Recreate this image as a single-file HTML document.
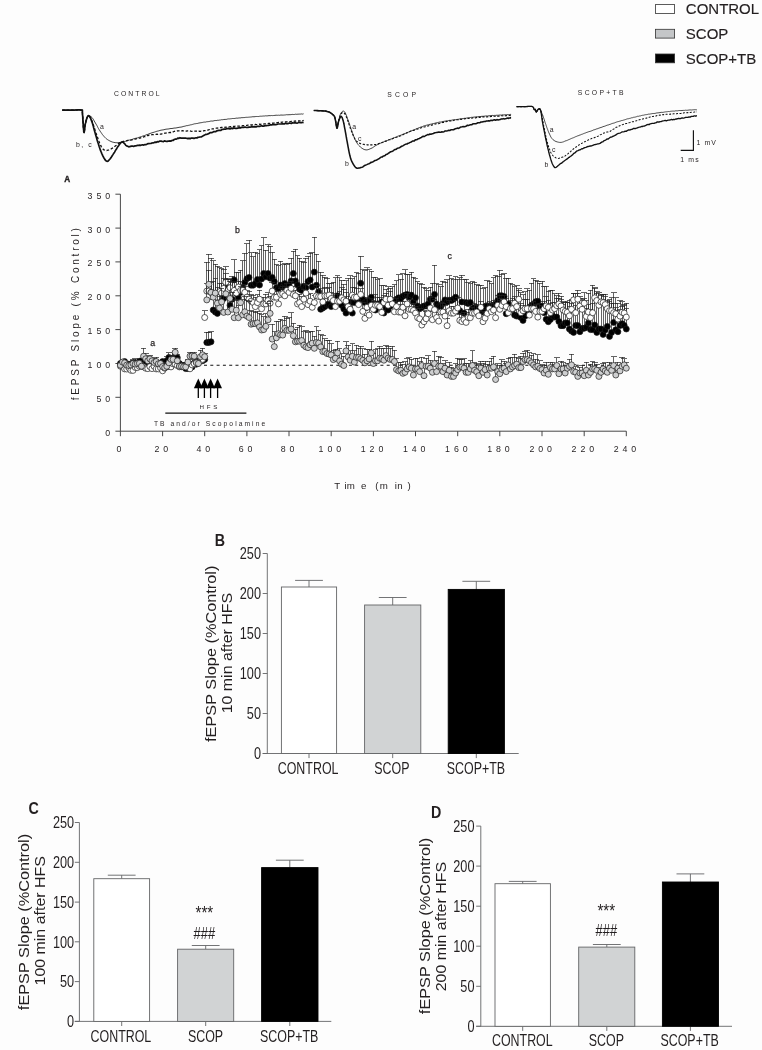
<!DOCTYPE html>
<html lang="en"><head><meta charset="utf-8"><title>fEPSP figure</title>
<style>
html,body{margin:0;padding:0;background:#fdfdfd}
svg{display:block}
text{font-family:"Liberation Sans",sans-serif;fill:#231f20}
.sp{letter-spacing:3.9px}
</style></head><body>
<svg width="762" height="1050" viewBox="0 0 762 1050">
<rect width="762" height="1050" fill="#fdfdfd"/>
<g id="legend" font-size="15" stroke="#231f20" stroke-width="0.15">
<rect x="655.4" y="4.6" width="19.2" height="8.8" fill="#fff" stroke="#333" stroke-width="0.8"/><text x="685.8" y="14.4">CONTROL</text>
<rect x="655.4" y="29.3" width="19.2" height="8.8" fill="#c4c6c8" stroke="#333" stroke-width="0.8"/><text x="685.8" y="39.0">SCOP</text>
<rect x="655.4" y="54.0" width="19.2" height="8.8" fill="#000" stroke="#333" stroke-width="0.8"/><text x="685.8" y="63.7">SCOP+TB</text>
</g>
<g id="traces">
<polyline points="62.2,110.1 62.9,110.1 63.8,110.1 64.8,110.1 66.0,110.2 67.3,110.2 68.6,110.2 70.0,110.2 70.9,110.2 72.0,110.2 73.1,110.1 74.3,110.1 75.5,110.0 76.7,110.0 77.8,109.9 78.9,109.9 79.8,109.9 80.6,110.0 81.3,110.1 82.4,110.2 82.4,110.7 82.4,113.0 82.5,113.7 82.5,114.5 82.6,115.4 82.7,116.5 82.8,117.6 82.8,118.8 82.9,120.1 83.0,121.3 83.1,122.6 83.2,123.9 83.3,125.2 83.3,126.4 83.4,127.6 83.5,128.7 83.6,129.7 83.7,130.5 83.7,131.3 83.8,131.8 83.9,132.2 84.1,132.5 84.2,132.0 84.4,131.1 84.6,129.7 84.7,128.2 84.9,126.6 85.1,125.1 85.3,124.0 85.6,122.9 85.8,121.8 86.1,120.7 86.4,119.7 86.7,118.7 87.0,117.9 87.3,117.2 88.1,116.0 89.0,115.8 89.9,116.0 90.9,116.5 92.0,117.5 92.5,118.2 93.1,119.0 93.6,119.9 94.2,120.9 94.8,122.0 95.4,123.0 96.0,124.0 96.5,124.9 97.0,125.7 97.5,126.6 97.9,127.5 98.4,128.4 98.9,129.3 99.5,130.1 100.0,131.0 100.6,131.9 101.2,132.7 101.8,133.6 102.4,134.5 103.1,135.3 103.7,136.1 104.4,136.8 105.0,137.5 105.8,138.3 106.7,139.0 107.5,139.6 108.3,140.1 109.2,140.6 110.0,141.0 111.0,141.5 112.0,141.9 112.9,142.2 113.9,142.4 115.0,142.6 115.9,142.7 116.9,142.7 117.9,142.7 118.9,142.6 119.9,142.5 121.0,142.3 121.9,142.1 122.8,141.9 123.7,141.7 124.6,141.5 125.6,141.3 126.7,140.9 128.0,140.6 128.8,140.2 129.6,140.0 130.5,139.9 131.3,139.7 132.2,139.4 133.2,138.9 134.2,138.7 135.2,138.4 136.3,138.1 137.5,137.9 138.7,137.4 140.0,137.1 140.8,136.7 141.6,136.6 142.4,136.2 143.3,135.8 144.2,135.7 145.1,135.4 146.1,134.8 147.0,134.6 148.0,134.3 149.0,133.8 150.0,133.5 151.0,133.1 152.0,132.8 153.0,132.5 154.1,132.2 155.1,131.9 156.1,131.5 157.1,131.2 158.1,131.0 159.0,130.8 160.0,130.4 161.0,130.2 162.0,130.0 163.0,129.9 164.0,129.7 165.0,129.4 166.0,129.2 167.0,129.1 168.0,129.0 169.0,128.9 170.0,128.6 171.0,128.5 172.0,128.5 173.0,128.3 174.0,128.1 175.0,128.0 176.0,128.0 177.0,127.7 178.0,127.6 179.0,127.3 180.0,127.2 181.0,127.1 182.0,126.9 183.0,126.6 183.9,126.3 184.9,126.2 185.8,125.9 186.8,125.6 187.8,125.6 188.7,125.3 189.7,125.1 190.7,124.8 191.6,124.7 192.6,124.4 193.6,124.1 194.6,123.8 195.7,123.7 196.7,123.5 197.8,123.4 198.9,123.0 200.0,122.9 200.9,122.7 201.8,122.6 202.7,122.4 203.6,122.2 204.5,122.1 205.5,122.1 206.4,121.8 207.3,121.7 208.3,121.6 209.2,121.5 210.2,121.2 211.2,121.0 212.1,121.1 213.1,121.0 214.1,120.7 215.2,120.5 216.2,120.6 217.2,120.3 218.3,120.3 219.4,120.1 220.5,120.0 221.6,119.7 222.7,119.7 223.8,119.5 225.0,119.4 225.9,119.4 226.8,119.3 227.7,119.0 228.6,118.9 229.5,118.9 230.4,118.8 231.4,118.7 232.3,118.5 233.3,118.5 234.2,118.5 235.2,118.4 236.1,118.1 237.1,118.2 238.1,118.1 239.1,117.9 240.1,118.0 241.1,117.7 242.1,117.7 243.2,117.6 244.2,117.6 245.3,117.4 246.3,117.3 247.4,117.3 248.5,117.2 249.6,117.1 250.7,117.0 251.8,116.9 252.9,116.7 254.0,116.8 255.2,116.6 256.3,116.5 257.5,116.5 258.7,116.5 259.6,116.3 260.6,116.2 261.5,116.2 262.5,116.1 263.6,116.0 264.6,116.0 265.7,115.8 266.8,115.9 267.9,115.8 269.0,115.6 270.2,115.7 271.4,115.5 272.5,115.6 273.7,115.5 274.9,115.4 276.1,115.2 277.3,115.3 278.5,115.2 279.7,115.3 280.9,115.0 282.1,115.1 283.3,115.1 284.4,115.0 285.6,114.9 286.7,114.7 287.9,114.8 289.0,114.7 290.1,114.7 291.2,114.6 292.2,114.4 293.3,114.5 294.3,114.5 295.3,114.2 296.2,114.3 297.1,114.3 298.0,114.1 298.9,114.2 299.7,114.1 300.4,114.1 301.2,113.9 301.8,114.0 302.5,114.1 303.1,113.9 303.6,113.8" fill="none" stroke="#111" stroke-width="0.8" stroke-linejoin="round"/>
<polyline points="62.2,110.1 62.9,110.1 63.8,110.1 64.8,110.1 66.0,110.2 67.3,110.2 68.6,110.2 70.0,110.2 70.9,110.2 72.0,110.2 73.1,110.1 74.3,110.1 75.5,110.0 76.7,110.0 77.8,109.9 78.9,109.9 79.8,109.9 80.6,110.0 81.3,110.1 82.4,110.2 82.4,110.7 82.4,113.0 82.5,113.7 82.5,114.5 82.6,115.4 82.7,116.5 82.8,117.6 82.8,118.8 82.9,120.1 83.0,121.3 83.1,122.6 83.2,123.9 83.3,125.2 83.3,126.4 83.4,127.6 83.5,128.7 83.6,129.7 83.7,130.5 83.7,131.3 83.8,131.8 83.9,132.2 84.1,132.5 84.2,132.0 84.4,131.1 84.6,129.7 84.7,128.2 84.9,126.6 85.1,125.1 85.3,124.0 85.6,122.9 85.8,121.8 86.1,120.7 86.4,119.7 86.7,118.7 87.0,117.9 87.3,117.2 88.1,115.8 89.0,115.8 89.4,116.2 89.9,116.8 90.4,117.6 90.9,118.5 91.4,119.7 92.0,121.0 92.3,121.8 92.6,122.6 92.9,123.5 93.3,124.5 93.6,125.6 93.9,126.6 94.3,127.7 94.6,128.8 95.0,129.9 95.3,131.0 95.7,132.0 96.0,133.0 96.4,134.1 96.7,135.1 97.1,136.2 97.5,137.3 97.9,138.4 98.2,139.5 98.6,140.5 99.0,141.5 99.3,142.4 99.7,143.2 100.0,144.0 100.7,145.4 101.3,146.6 101.8,147.5 102.4,148.3 103.0,149.0 104.0,149.9 104.9,150.3 106.0,150.5 106.9,150.5 107.9,150.2 109.0,149.9 110.0,149.5 111.0,149.0 112.0,148.4 113.0,147.7 114.0,147.0 114.8,146.4 115.6,145.8 116.5,145.2 117.3,144.5 118.0,144.0 118.9,143.2 119.7,142.6 121.0,142.0 121.7,141.8 122.6,141.6 123.5,141.4 124.4,141.2 125.5,141.0 126.7,140.7 128.0,140.3 128.8,140.2 129.7,140.0 130.7,140.1 131.7,139.8 132.7,139.7 133.8,139.2 134.9,139.2 136.0,138.8 137.0,138.7 138.1,138.5 139.1,138.2 140.0,138.1 141.1,137.7 142.1,137.4 143.1,137.2 144.1,136.6 145.1,136.6 146.1,136.1 147.1,135.7 148.0,135.6 149.0,135.1 150.0,135.2 151.0,134.9 152.0,134.6 153.0,134.7 154.0,134.5 155.0,134.3 156.0,134.4 157.0,134.1 158.0,134.3 159.0,134.0 160.0,134.1 161.0,134.1 162.0,133.8 163.0,133.7 164.0,133.4 165.0,133.1 166.0,133.0 167.0,132.8 168.0,132.9 169.0,132.6 170.0,132.5 171.0,132.5 171.8,132.0 172.7,131.8 173.5,131.8 174.4,131.3 175.3,131.1 176.3,131.1 177.4,130.9 178.6,130.8 180.0,130.7 180.8,130.8 181.6,130.8 182.5,130.7 183.4,130.8 184.4,130.8 185.4,130.7 186.5,131.1 187.5,130.9 188.6,130.9 189.7,130.9 190.8,131.2 191.9,131.3 193.0,131.3 194.1,131.2 195.1,131.2 196.2,131.1 197.2,131.3 198.2,131.3 199.1,131.2 200.0,131.3 201.2,131.1 202.3,131.2 203.4,130.9 204.5,130.6 205.6,130.6 206.6,130.1 207.6,130.1 208.6,129.8 209.6,129.5 210.6,129.2 211.5,129.3 212.4,128.8 213.3,128.8 214.2,128.8 215.0,128.4 216.2,128.2 217.2,128.2 218.2,128.0 219.1,127.9 220.0,127.9 220.9,127.5 221.8,127.5 222.8,127.4 223.8,127.1 225.0,127.4 225.8,127.2 226.7,127.1 227.6,126.8 228.5,127.0 229.5,126.9 230.5,126.7 231.5,126.8 232.5,126.6 233.5,126.4 234.5,126.3 235.6,126.2 236.7,126.1 237.8,126.1 238.9,126.2 240.0,126.1 240.9,126.1 241.9,125.9 242.9,125.7 243.9,125.7 244.9,125.5 245.9,125.6 246.9,125.4 247.9,125.2 249.0,125.2 250.0,125.3 251.1,124.9 252.1,125.0 253.2,124.6 254.3,124.6 255.4,124.5 256.5,124.6 257.6,124.6 258.7,124.4 259.7,124.1 260.6,124.3 261.6,124.0 262.6,123.9 263.5,124.0 264.5,123.9 265.5,123.8 266.5,123.7 267.5,123.7 268.5,123.5 269.6,123.5 270.6,123.4 271.6,123.4 272.6,123.1 273.7,123.1 274.7,123.0 275.8,122.8 276.8,122.7 277.9,122.7 278.9,122.4 280.0,122.7 281.0,122.3 282.1,122.1 283.1,122.1 284.3,122.3 285.4,122.0 286.6,121.8 287.8,121.6 289.0,121.5 290.2,121.7 291.4,121.5 292.5,121.5 293.7,121.4 294.9,121.0 296.0,121.1 297.0,120.9 298.1,121.0 299.1,120.9 300.0,120.9 300.9,120.5 301.7,120.7 302.4,120.7 303.0,120.6 303.6,120.2" fill="none" stroke="#111" stroke-width="1.3" stroke-linejoin="round" stroke-dasharray="2.6 1.8"/>
<polyline points="62.2,110.1 62.9,110.1 63.8,110.1 64.8,110.1 66.0,110.2 67.3,110.2 68.6,110.2 70.0,110.2 70.9,110.2 72.0,110.2 73.1,110.1 74.3,110.1 75.5,110.0 76.7,110.0 77.8,109.9 78.9,109.9 79.8,109.9 80.6,110.0 81.3,110.1 82.4,110.2 82.4,110.7 82.4,113.0 82.5,113.7 82.5,114.5 82.6,115.4 82.7,116.5 82.8,117.6 82.8,118.8 82.9,120.1 83.0,121.3 83.1,122.6 83.2,123.9 83.3,125.2 83.3,126.4 83.4,127.6 83.5,128.7 83.6,129.7 83.7,130.5 83.7,131.3 83.8,131.8 83.9,132.2 84.1,132.5 84.2,132.0 84.4,131.1 84.6,129.7 84.7,128.2 84.9,126.6 85.1,125.1 85.3,124.0 85.6,122.9 85.8,121.8 86.1,120.7 86.4,119.7 86.7,118.7 87.0,117.9 87.3,117.2 88.1,115.7 89.0,115.8 89.4,116.3 89.9,117.0 90.4,117.9 90.9,119.1 91.4,120.4 92.0,122.0 92.3,122.8 92.5,123.6 92.8,124.5 93.1,125.5 93.4,126.5 93.6,127.5 93.9,128.6 94.2,129.7 94.5,130.8 94.8,131.8 95.1,132.9 95.4,134.0 95.7,135.0 96.0,136.0 96.3,137.0 96.6,138.1 96.9,139.2 97.2,140.2 97.5,141.3 97.8,142.3 98.2,143.3 98.5,144.3 98.8,145.3 99.1,146.3 99.4,147.2 99.7,148.1 100.0,149.0 100.4,150.2 100.9,151.4 101.4,152.5 101.8,153.6 102.3,154.6 102.7,155.6 103.2,156.5 103.6,157.3 104.0,158.0 104.8,159.4 105.6,160.4 106.3,161.0 107.0,161.3 108.0,161.1 108.9,160.2 110.0,159.0 110.5,158.3 111.1,157.6 111.6,156.7 112.2,155.8 112.8,154.9 113.4,153.9 114.0,153.0 114.6,152.1 115.1,151.1 115.7,150.1 116.3,149.2 116.9,148.2 117.4,147.3 118.0,146.5 118.8,145.4 119.6,144.2 120.4,143.2 121.2,142.4 121.9,142.0 123.0,142.1 124.0,143.1 125.0,144.1 125.8,145.4 126.6,145.9 127.6,146.3 128.7,146.8 129.6,146.7 130.5,146.4 131.5,146.1 132.5,146.0 133.7,146.4 135.0,145.8 135.8,145.8 136.7,145.7 137.6,145.3 138.5,145.3 139.5,145.2 140.5,145.4 141.5,145.0 142.6,144.8 143.8,145.1 145.0,144.5 145.9,144.6 146.8,144.3 147.8,143.6 148.8,143.7 149.8,143.5 150.9,143.5 152.0,142.9 153.0,143.0 154.1,142.6 155.2,142.1 156.2,142.4 157.2,141.6 158.2,142.0 159.1,141.4 160.0,141.1 161.2,141.1 162.3,141.5 163.4,141.6 164.4,140.8 165.3,141.2 166.2,141.3 167.2,141.5 168.1,141.0 169.0,141.1 170.0,140.9 171.0,141.1 172.0,140.3 173.0,140.5 174.0,139.6 175.0,139.2 176.0,139.2 177.0,138.7 178.0,138.1 179.0,138.3 180.0,137.7 181.0,138.1 182.0,138.1 183.0,138.2 184.0,138.1 185.0,138.0 186.0,138.2 187.0,138.3 188.0,138.8 189.0,138.2 190.0,138.8 191.0,138.1 192.0,138.1 193.0,138.1 194.0,138.5 195.0,138.0 196.0,137.8 197.0,138.0 198.0,137.3 199.0,137.2 200.0,137.0 201.0,136.9 201.9,136.6 202.8,136.1 203.8,135.4 204.7,135.0 205.6,134.4 206.6,134.5 207.7,134.0 208.8,133.6 210.0,132.7 210.9,132.7 211.7,132.7 212.7,132.3 213.6,131.6 214.6,131.6 215.6,131.7 216.7,130.9 217.7,130.6 218.8,130.4 219.8,130.4 220.9,130.3 221.9,129.5 223.0,129.3 224.0,129.2 225.0,129.1 226.0,129.1 227.0,128.6 227.9,128.6 228.9,128.4 229.9,128.9 230.8,128.7 231.8,128.1 232.8,128.7 233.7,127.9 234.7,128.1 235.7,128.5 236.8,128.3 237.8,128.2 238.9,127.8 240.0,127.6 240.9,127.8 241.9,127.3 242.9,127.3 243.9,127.4 244.9,127.0 245.9,127.3 246.9,127.5 247.9,127.3 249.0,127.1 250.0,127.1 251.1,126.9 252.1,126.6 253.2,126.9 254.3,126.6 255.4,126.8 256.5,126.8 257.6,126.3 258.7,126.4 259.7,126.4 260.6,126.0 261.6,125.8 262.6,126.1 263.5,126.1 264.5,125.9 265.5,125.7 266.5,125.7 267.5,125.5 268.5,125.3 269.6,125.1 270.6,124.8 271.6,125.0 272.6,124.4 273.7,124.6 274.7,124.7 275.8,124.6 276.8,124.4 277.9,124.0 278.9,124.0 280.0,124.0 281.0,124.0 282.1,123.8 283.1,123.9 284.3,124.0 285.4,123.3 286.6,123.6 287.8,123.6 289.0,123.2 290.2,123.2 291.4,123.5 292.5,122.7 293.7,123.0 294.9,122.6 296.0,123.0 297.0,123.1 298.1,122.7 299.1,122.3 300.0,122.6 300.9,122.5 301.7,122.6 302.4,122.4 303.0,122.5 303.6,122.6" fill="none" stroke="#111" stroke-width="1.7" stroke-linejoin="round"/>
<polyline points="313.8,110.5 314.5,110.5 315.4,110.5 316.6,110.6 317.7,110.6 318.9,110.7 320.0,110.7 321.2,110.8 322.3,110.8 323.5,110.9 324.6,111.0 325.6,111.1 326.8,111.4 328.0,111.7 329.1,112.1 330.0,112.5 331.0,113.1 331.8,113.7 332.5,114.4 333.6,115.3 334.5,116.5 334.8,117.4 335.1,118.4 335.3,119.6 335.6,121.0 335.8,122.0 336.0,123.3 336.2,124.6 336.4,125.9 336.6,127.0 336.8,127.9 337.0,128.2 337.2,128.0 337.4,127.2 337.7,126.0 337.9,124.7 338.1,123.3 338.4,122.0 338.6,121.1 338.9,120.0 339.1,118.9 339.4,117.8 339.6,116.7 339.9,115.7 340.2,114.8 340.5,114.0 341.2,112.8 341.9,111.8 342.6,111.3 343.3,111.1 343.9,111.2 344.5,111.7 345.2,112.7 346.0,114.5 346.3,115.2 346.6,115.9 346.9,116.8 347.3,117.8 347.6,118.8 348.0,119.9 348.4,121.0 348.8,122.1 349.2,123.3 349.6,124.4 349.9,125.5 350.3,126.5 350.6,127.5 350.9,128.4 351.2,129.2 351.7,130.5 352.1,131.7 352.4,132.7 352.7,133.6 353.0,134.5 353.3,135.3 353.7,136.2 354.0,137.0 354.5,138.1 354.9,139.2 355.4,140.2 355.9,141.2 356.4,142.1 357.0,143.0 357.6,143.9 358.2,144.7 358.9,145.5 359.6,146.2 360.3,146.9 361.0,147.5 361.9,148.2 362.9,148.8 363.9,149.4 364.9,149.7 366.0,149.9 366.9,149.9 367.9,149.7 368.9,149.4 369.9,148.9 370.9,148.5 372.0,148.0 372.8,147.6 373.5,147.1 374.1,146.8 374.9,146.0 375.8,145.5 377.1,144.8 378.7,144.1 379.4,143.6 380.1,143.5 380.8,143.0 381.6,142.6 382.5,142.3 383.4,142.0 384.3,141.5 385.3,141.3 386.2,140.9 387.2,140.6 388.2,140.0 389.3,139.6 390.3,139.2 391.4,139.0 392.4,138.6 393.4,138.1 394.5,137.6 395.5,137.4 396.5,136.8 397.4,136.4 398.4,136.0 399.3,135.8 400.3,135.4 401.3,135.0 402.3,134.5 403.3,134.2 404.3,133.6 405.3,133.5 406.3,132.9 407.3,132.5 408.2,132.2 409.2,131.8 410.2,131.3 411.2,130.9 412.1,130.6 413.0,130.1 413.9,129.9 414.8,129.4 415.7,129.2 416.5,128.7 417.3,128.5 418.1,128.1 419.3,127.7 420.4,127.2 421.4,126.8 422.3,126.7 423.2,126.2 424.0,125.9 424.9,125.7 425.7,125.4 426.6,125.2 427.6,124.9 428.7,124.7 430.0,124.3 430.8,124.2 431.6,124.0 432.5,123.6 433.3,123.6 434.2,123.4 435.1,123.2 436.0,122.8 436.9,122.8 437.9,122.6 438.9,122.2 439.9,122.0 440.9,122.1 441.9,121.8 443.0,121.5 444.1,121.3 445.2,121.1 446.4,120.9 447.6,120.9 448.8,120.5 450.0,120.3 450.8,120.4 451.7,120.2 452.6,119.9 453.5,120.0 454.4,119.8 455.3,119.7 456.3,119.5 457.3,119.4 458.2,119.3 459.2,119.1 460.2,118.8 461.2,118.8 462.2,118.6 463.3,118.5 464.3,118.3 465.3,118.3 466.4,118.1 467.4,117.9 468.5,117.7 469.5,117.6 470.6,117.5 471.7,117.3 472.7,117.3 473.8,117.1 474.8,117.0 475.9,116.9 476.9,116.8 477.9,116.8 479.0,116.5 480.0,116.6 481.0,116.4 482.0,116.3 483.1,116.3 484.2,116.2 485.3,116.0 486.4,115.9 487.6,116.0 488.7,115.7 489.9,115.7 491.0,115.7 492.2,115.4 493.4,115.5 494.6,115.4 495.7,115.4 496.9,115.2 498.0,115.3 499.1,115.1 500.2,115.0 501.3,115.1 502.3,114.8 503.3,114.9 504.3,114.8 505.3,114.7 506.2,114.8 507.0,114.6 507.8,114.6 508.6,114.6 509.3,114.6 510.0,114.4 510.6,114.4 511.1,114.4" fill="none" stroke="#111" stroke-width="0.8" stroke-linejoin="round"/>
<polyline points="313.8,110.5 314.5,110.5 315.4,110.5 316.6,110.6 317.7,110.6 318.9,110.7 320.0,110.7 321.2,110.8 322.3,110.8 323.5,110.9 324.6,111.0 325.6,111.1 326.8,111.4 328.0,111.7 329.1,112.1 330.0,112.5 331.0,113.1 331.8,113.7 332.5,114.4 333.6,115.3 334.5,116.5 334.8,117.4 335.1,118.4 335.3,119.6 335.6,121.0 335.8,122.0 336.0,123.3 336.2,124.6 336.4,125.9 336.6,127.0 336.8,127.9 337.0,128.2 337.2,128.0 337.4,127.2 337.7,126.0 337.9,124.6 338.1,123.2 338.4,122.0 338.7,121.0 338.9,119.9 339.2,118.8 339.5,117.7 339.9,116.7 340.2,115.8 340.5,115.0 341.3,113.6 342.1,112.7 343.0,112.5 343.7,112.7 344.3,113.2 345.1,114.2 346.0,116.0 346.3,116.7 346.6,117.5 347.0,118.4 347.3,119.4 347.7,120.4 348.1,121.5 348.4,122.7 348.8,123.8 349.2,124.9 349.6,126.1 350.0,127.1 350.3,128.2 350.7,129.1 351.0,130.0 351.5,131.2 352.0,132.4 352.4,133.6 352.8,134.6 353.3,135.6 353.7,136.6 354.1,137.4 354.6,138.2 355.0,139.0 355.8,140.2 356.5,141.1 357.3,141.8 358.1,142.4 359.0,143.0 359.9,143.4 360.8,143.8 361.8,144.0 362.9,144.3 363.9,144.4 365.0,144.6 366.0,144.7 367.0,144.8 368.0,144.8 369.1,144.8 370.1,144.8 371.1,144.8 372.0,144.8 373.1,144.8 374.0,144.8 374.9,144.5 375.8,144.6 377.0,144.2 377.8,144.0 378.7,143.6 379.5,143.4 380.5,143.3 381.5,142.8 382.6,142.5 383.7,141.9 385.0,141.4 385.8,141.1 386.6,141.0 387.4,140.7 388.3,140.4 389.1,139.8 390.0,139.7 391.0,139.5 391.9,139.0 392.9,138.4 394.0,138.1 395.0,137.6 396.1,137.3 397.2,137.1 398.4,136.5 399.2,136.3 400.0,136.0 400.8,135.7 401.6,135.2 402.4,134.9 403.2,134.6 404.0,134.2 404.9,133.8 405.7,133.5 406.6,132.9 407.5,132.7 408.4,132.2 409.3,132.0 410.3,131.3 411.3,131.0 412.3,130.5 413.4,130.4 414.5,130.1 415.6,129.6 416.8,129.1 418.0,128.9 418.8,128.7 419.7,128.3 420.5,128.0 421.4,127.7 422.3,127.5 423.3,127.2 424.2,127.0 425.2,126.8 426.2,126.7 427.2,126.1 428.2,126.0 429.2,125.5 430.2,125.3 431.2,125.3 432.3,124.9 433.4,124.8 434.4,124.4 435.5,123.9 436.5,123.8 437.6,123.7 438.7,123.6 439.7,123.3 440.8,122.9 441.8,122.6 442.9,122.3 443.9,122.3 445.0,121.9 446.0,121.6 447.0,121.4 448.0,121.2 449.0,121.3 450.0,120.8 451.0,121.0 452.1,120.5 453.1,120.6 454.1,120.1 455.1,119.9 456.1,120.1 457.1,119.7 458.1,119.8 459.1,119.4 460.1,119.2 461.1,119.4 462.1,119.2 463.1,119.2 464.1,119.0 465.1,118.6 466.0,118.7 467.0,118.6 468.0,118.4 469.0,118.5 470.0,118.1 471.0,118.3 472.0,118.1 473.0,117.8 474.0,117.7 475.0,117.8 476.0,117.8 477.0,117.4 478.0,117.4 479.0,117.5 480.0,117.2 481.0,117.4 482.0,117.1 483.1,116.9 484.2,116.9 485.3,116.9 486.4,116.8 487.6,116.8 488.7,116.5 489.9,116.7 491.0,116.4 492.2,116.5 493.4,116.4 494.6,116.2 495.7,116.2 496.9,116.3 498.0,116.3 499.1,116.1 500.2,116.0 501.3,115.8 502.3,115.7 503.3,116.0 504.3,115.8 505.3,115.8 506.2,115.6 507.0,115.7 507.8,115.8 508.6,115.7 509.3,115.5 510.0,115.4 510.6,115.4 511.1,115.6" fill="none" stroke="#111" stroke-width="1.15" stroke-linejoin="round" stroke-dasharray="2.2 1.6"/>
<polyline points="313.8,110.5 314.5,110.5 315.4,110.5 316.6,110.6 317.7,110.6 318.9,110.7 320.0,110.7 321.2,110.8 322.3,110.8 323.5,110.9 324.6,111.0 325.6,111.1 326.8,111.4 328.0,111.7 329.1,112.1 330.0,112.5 331.0,113.1 331.8,113.7 332.5,114.4 333.6,115.3 334.5,116.5 334.8,117.4 335.1,118.4 335.3,119.6 335.6,121.0 335.8,122.0 336.0,123.3 336.2,124.6 336.4,125.9 336.6,127.0 336.8,127.9 337.0,128.2 337.2,127.9 337.5,127.0 337.7,125.8 337.9,124.4 338.2,123.0 338.4,122.0 338.8,120.6 339.2,119.5 339.7,118.5 340.4,116.9 341.3,116.4 341.6,116.8 342.0,117.3 342.3,118.1 342.7,119.2 343.1,120.4 343.5,122.0 343.7,122.7 343.8,123.5 344.0,124.3 344.2,125.2 344.3,126.1 344.5,127.1 344.7,128.1 344.9,129.1 345.1,130.2 345.3,131.3 345.5,132.4 345.7,133.5 345.9,134.7 346.1,135.8 346.3,137.0 346.5,137.9 346.6,138.8 346.8,139.8 347.0,140.8 347.2,141.9 347.4,143.0 347.6,144.1 347.8,145.2 348.0,146.3 348.2,147.4 348.4,148.4 348.6,149.5 348.8,150.6 349.0,151.6 349.2,152.6 349.4,153.5 349.6,154.4 349.8,155.3 350.0,156.1 350.2,156.8 350.6,158.4 351.1,159.7 351.5,160.7 351.9,161.7 352.3,162.4 352.7,163.1 353.1,163.8 353.5,164.5 354.2,165.6 354.8,166.5 355.5,167.3 356.2,167.8 357.0,168.2 357.9,168.3 358.7,168.1 359.7,168.0 360.8,167.6 362.0,167.3 362.9,166.9 363.8,166.1 364.7,165.4 365.8,165.0 366.8,164.6 367.9,164.1 368.9,163.8 370.0,163.3 370.9,162.3 371.7,162.4 372.4,162.0 373.2,161.7 374.0,161.1 375.0,160.5 376.0,160.3 377.2,159.7 378.7,158.8 379.4,158.6 380.1,157.8 380.8,157.3 381.6,157.1 382.4,156.9 383.3,156.0 384.2,155.9 385.1,155.5 386.0,154.5 386.9,154.2 387.9,153.7 388.8,153.0 389.8,152.3 390.8,151.8 391.8,151.6 392.7,151.1 393.7,150.3 394.7,149.5 395.6,149.5 396.6,149.0 397.5,148.2 398.4,148.0 399.3,147.7 400.3,147.2 401.3,146.5 402.3,146.0 403.3,145.6 404.3,144.9 405.3,144.4 406.3,144.0 407.3,143.9 408.2,143.2 409.2,142.9 410.2,142.4 411.2,142.0 412.1,141.4 413.0,140.9 413.9,141.1 414.8,140.3 415.7,139.8 416.5,139.8 417.3,139.5 418.1,138.8 419.3,138.5 420.4,137.8 421.4,137.5 422.3,136.7 423.2,136.3 424.0,136.6 424.9,136.1 425.7,135.5 426.6,135.2 427.6,134.6 428.7,134.7 430.0,134.0 430.8,134.2 431.6,133.9 432.5,133.7 433.3,133.6 434.2,133.0 435.1,132.7 436.0,132.6 436.9,132.4 437.9,132.2 438.9,132.0 439.9,132.2 440.9,132.2 441.9,131.8 443.0,131.9 444.1,131.7 445.2,130.9 446.4,131.0 447.6,130.7 448.8,130.2 450.0,130.5 450.8,129.8 451.7,129.8 452.6,129.7 453.5,129.7 454.4,129.2 455.3,128.8 456.3,128.6 457.3,128.1 458.2,128.4 459.2,128.1 460.2,127.3 461.2,126.9 462.2,126.8 463.3,126.6 464.3,126.7 465.3,126.4 466.4,126.1 467.4,125.2 468.5,125.5 469.5,125.1 470.6,124.8 471.7,124.8 472.7,123.9 473.8,123.7 474.8,123.8 475.9,123.7 476.9,123.3 477.9,122.8 479.0,122.8 480.0,122.7 481.0,122.0 482.0,122.0 483.1,121.7 484.2,121.4 485.3,121.5 486.4,121.1 487.6,121.0 488.7,120.7 489.9,120.9 491.0,120.3 492.2,120.6 493.4,120.0 494.6,119.8 495.7,120.2 496.9,119.6 498.0,119.9 499.1,119.7 500.2,119.6 501.3,118.9 502.3,119.0 503.3,118.6 504.3,119.0 505.3,118.8 506.2,118.6 507.0,118.3 507.8,118.1 508.6,118.4 509.3,118.0 510.0,118.1 510.6,117.6 511.1,117.6" fill="none" stroke="#111" stroke-width="1.55" stroke-linejoin="round"/>
<polyline points="516.6,106.6 517.3,106.6 518.1,106.6 519.2,106.6 520.3,106.6 521.6,106.6 522.8,106.6 523.9,106.6 525.0,106.6 526.2,106.6 527.3,106.5 528.5,106.4 529.7,106.4 530.7,106.4 531.6,106.4 532.4,106.6 533.5,107.6 533.9,108.9 534.3,109.8 534.9,109.6 535.3,109.3 535.6,110.2 535.9,111.5 536.3,112.2 537.0,111.2 537.8,109.8 538.5,109.0 539.3,108.8 540.0,109.4 540.8,110.8 541.2,111.6 541.6,112.5 542.0,113.5 542.5,114.6 543.0,116.0 543.3,116.9 543.6,117.8 544.0,118.9 544.3,119.9 544.7,121.1 545.0,122.2 545.4,123.3 545.8,124.3 546.1,125.3 546.5,126.4 546.8,127.4 547.2,128.4 547.6,129.4 547.9,130.3 548.3,131.3 548.6,132.1 549.0,133.0 549.5,134.1 550.0,135.1 550.4,136.1 550.9,137.0 551.4,137.8 552.0,138.6 552.9,139.6 553.9,140.3 554.9,141.0 556.0,141.5 557.2,141.9 558.4,142.2 559.6,142.4 560.9,142.4 561.8,142.3 562.5,142.1 563.3,141.9 564.4,141.4 566.0,140.7 566.7,140.6 567.4,140.3 568.1,139.8 568.9,139.7 569.8,139.2 570.7,138.8 571.6,138.4 572.6,138.0 573.5,137.7 574.6,137.2 575.6,136.7 576.7,136.3 577.8,135.8 578.9,135.5 580.0,134.9 580.8,134.8 581.7,134.3 582.5,134.1 583.4,133.7 584.4,133.3 585.3,133.0 586.2,132.6 587.2,132.3 588.2,131.9 589.1,131.6 590.1,131.4 591.1,131.0 592.1,130.7 593.1,130.1 594.1,129.8 595.1,129.6 596.1,129.0 597.1,128.9 598.1,128.4 599.0,128.2 600.0,127.7 601.0,127.5 602.0,127.1 603.0,126.7 604.0,126.3 604.9,126.2 605.9,125.7 606.9,125.3 607.9,125.0 608.9,124.8 609.9,124.3 610.9,124.1 611.8,123.6 612.8,123.3 613.8,123.1 614.8,122.8 615.8,122.3 616.7,122.0 617.7,121.7 618.7,121.5 619.7,121.2 620.7,120.9 621.7,120.5 622.7,120.4 623.6,120.1 624.6,119.8 625.6,119.5 626.6,119.1 627.6,118.8 628.6,118.7 629.6,118.4 630.5,118.2 631.5,117.8 632.5,117.7 633.5,117.3 634.5,117.2 635.5,117.0 636.5,116.7 637.4,116.3 638.4,116.3 639.4,116.0 640.4,115.9 641.5,115.5 642.5,115.3 643.5,115.2 644.6,114.9 645.6,114.7 646.6,114.6 647.7,114.4 648.7,114.1 649.7,114.1 650.7,113.9 651.8,113.7 652.8,113.5 653.8,113.5 654.9,113.4 655.9,113.2 656.9,112.9 658.0,112.9 659.0,112.7 660.0,112.6 661.1,112.3 662.1,112.4 663.2,112.3 664.2,112.1 665.3,111.9 666.3,111.8 667.4,111.7 668.4,111.5 669.5,111.6 670.5,111.3 671.5,111.2 672.6,111.1 673.6,111.1 674.6,111.1 675.7,110.8 676.7,110.8 677.7,110.8 678.7,110.6 679.8,110.5 680.9,110.6 682.0,110.5 683.2,110.4 684.4,110.4 685.6,110.2 686.8,110.3 687.9,110.2 689.1,110.0 690.2,109.9 691.3,110.0 692.3,109.9 693.3,109.8 694.2,109.7 695.0,109.8 695.8,109.7 696.4,109.8 697.0,109.8" fill="none" stroke="#111" stroke-width="0.75" stroke-linejoin="round"/>
<polyline points="516.6,106.6 517.3,106.6 518.1,106.6 519.2,106.6 520.3,106.6 521.6,106.6 522.8,106.6 523.9,106.6 525.0,106.6 526.2,106.6 527.3,106.5 528.5,106.4 529.7,106.4 530.7,106.4 531.6,106.4 532.4,106.6 533.5,107.6 533.9,108.9 534.3,109.8 534.9,109.6 535.3,109.3 535.6,110.2 535.9,111.5 536.3,112.2 537.0,111.2 537.8,109.8 538.5,109.0 539.3,108.8 540.0,109.0 540.8,110.8 541.0,111.5 541.1,112.2 541.3,113.1 541.5,114.0 541.7,115.1 541.9,116.1 542.1,117.3 542.3,118.4 542.5,119.6 542.8,120.8 543.0,122.0 543.2,122.9 543.4,123.8 543.5,124.8 543.7,125.8 543.9,126.9 544.1,127.9 544.3,129.0 544.6,130.0 544.8,131.1 545.0,132.2 545.2,133.2 545.4,134.2 545.6,135.2 545.8,136.1 546.0,137.0 546.3,138.2 546.5,139.3 546.8,140.4 547.1,141.5 547.4,142.5 547.6,143.5 547.9,144.5 548.2,145.4 548.5,146.3 548.7,147.2 549.0,148.0 549.4,149.2 549.9,150.3 550.3,151.3 550.7,152.2 551.1,153.0 551.6,153.8 552.0,154.5 552.8,155.5 553.5,156.2 554.2,156.8 555.0,157.3 556.0,157.9 556.9,158.3 558.0,158.4 558.9,158.3 559.9,158.0 560.9,157.5 562.0,157.2 562.8,157.0 563.4,156.5 564.2,156.5 565.2,155.9 566.7,154.7 567.3,154.2 567.9,153.9 568.6,153.2 569.3,152.5 570.0,152.1 570.8,151.4 571.6,150.5 572.5,149.7 573.4,149.0 574.3,148.3 575.2,147.8 576.1,147.0 577.1,146.3 578.0,145.6 579.0,145.0 580.0,144.0 580.8,143.7 581.7,143.4 582.6,142.9 583.6,142.2 584.5,141.8 585.5,141.4 586.6,140.8 587.6,140.4 588.6,139.8 589.7,139.5 590.7,139.0 591.7,138.4 592.7,138.1 593.7,138.0 594.6,137.5 595.5,137.2 596.3,136.7 597.1,136.4 597.8,136.2 598.5,135.9 600.1,134.8 601.3,134.4 602.2,133.8 602.9,133.6 603.6,133.1 604.3,132.9 605.0,132.8 606.0,132.3 606.9,132.1 607.7,132.0 608.7,131.8 610.0,131.5 610.7,130.9 611.3,130.5 612.0,130.2 612.8,129.5 613.5,129.1 614.3,128.7 615.2,128.0 616.2,127.3 617.3,126.9 618.4,126.3 619.7,125.7 620.5,125.4 621.3,125.1 622.1,124.8 623.0,124.6 623.9,124.2 624.9,123.9 625.9,123.5 626.9,123.4 627.9,123.2 628.9,122.8 630.0,122.5 631.0,122.2 632.1,121.8 633.2,121.7 634.2,121.3 635.3,121.0 636.4,120.8 637.4,120.4 638.4,120.1 639.4,119.8 640.4,119.5 641.4,119.4 642.3,119.1 643.3,118.9 644.3,118.4 645.3,118.3 646.3,118.2 647.2,117.7 648.2,117.6 649.2,117.3 650.2,117.0 651.2,117.1 652.1,116.6 653.1,116.5 654.1,116.1 655.1,115.9 656.1,116.0 657.0,115.6 658.0,115.3 659.0,115.3 660.0,115.1 661.1,115.1 662.1,114.7 663.2,114.6 664.2,114.8 665.3,114.6 666.3,114.3 667.4,114.2 668.4,114.1 669.5,114.2 670.5,114.1 671.5,114.1 672.6,114.0 673.6,113.8 674.6,113.8 675.7,113.8 676.7,113.7 677.7,113.5 678.7,113.5 679.8,113.4 680.9,113.4 682.0,112.9 683.2,113.1 684.4,112.7 685.6,112.9 686.8,112.7 687.9,112.6 689.1,112.7 690.2,112.4 691.3,112.3 692.3,112.3 693.3,112.3 694.2,112.1 695.0,111.9 695.8,111.9 696.4,111.8 697.0,111.9" fill="none" stroke="#111" stroke-width="1.05" stroke-linejoin="round" stroke-dasharray="2 1.5"/>
<polyline points="516.6,106.6 517.3,106.6 518.1,106.6 519.2,106.6 520.3,106.6 521.6,106.6 522.8,106.6 523.9,106.6 525.0,106.6 526.2,106.6 527.3,106.5 528.5,106.4 529.7,106.4 530.7,106.4 531.6,106.4 532.4,106.6 533.5,107.6 533.9,108.9 534.3,109.8 534.9,109.6 535.3,109.3 535.6,110.2 535.9,111.5 536.3,112.2 537.0,111.2 537.8,109.8 538.5,109.0 539.3,108.8 540.0,109.0 540.8,110.8 540.9,111.5 541.1,112.3 541.2,113.1 541.4,114.1 541.5,115.2 541.7,116.3 541.8,117.4 542.0,118.6 542.1,119.7 542.3,120.9 542.5,122.0 542.7,122.9 542.8,123.9 543.0,124.9 543.2,125.8 543.4,126.8 543.6,127.8 543.8,128.8 544.0,129.9 544.2,130.9 544.4,131.9 544.6,132.9 544.8,134.0 545.0,135.0 545.2,136.0 545.4,137.0 545.6,138.0 545.8,139.0 546.0,140.0 546.3,141.0 546.5,142.1 546.7,143.1 546.9,144.1 547.1,145.1 547.3,146.1 547.6,147.1 547.8,148.0 548.0,148.9 548.3,150.0 548.6,151.2 548.8,152.3 549.1,153.4 549.4,154.5 549.7,155.5 550.0,156.5 550.3,157.5 550.5,158.4 550.8,159.2 551.0,160.0 551.5,161.4 551.9,162.6 552.2,163.5 552.6,164.3 553.0,165.0 553.6,166.2 554.3,167.1 555.0,167.6 556.2,167.3 557.5,166.2 558.2,165.6 558.9,165.0 560.0,163.9 560.6,163.4 561.2,163.3 561.9,162.9 562.7,162.1 563.5,161.5 564.5,160.7 565.5,160.0 566.7,159.1 567.3,158.9 568.0,158.3 568.7,157.4 569.4,157.4 570.2,156.4 571.0,156.1 571.8,155.4 572.6,154.8 573.5,153.6 574.3,153.1 575.2,152.7 576.2,151.5 577.1,150.9 578.0,150.6 579.0,150.0 580.0,149.8 580.9,149.3 581.8,148.7 582.8,148.7 583.8,148.0 584.8,147.6 585.9,147.4 586.9,146.9 588.0,146.5 589.1,146.4 590.2,145.9 591.3,146.0 592.3,145.5 593.4,145.2 594.4,144.6 595.3,144.5 596.2,144.3 597.0,144.1 597.8,143.9 598.5,143.9 600.0,143.4 601.0,142.6 601.7,142.2 602.3,141.9 602.9,141.8 603.7,140.8 605.0,140.3 605.7,140.2 606.4,139.3 607.2,139.0 608.0,139.1 608.8,138.5 609.7,137.8 610.6,137.1 611.5,137.1 612.5,136.5 613.5,136.1 614.5,135.7 615.5,135.2 616.5,134.4 617.6,133.7 618.6,133.4 619.7,133.1 620.6,132.8 621.5,132.2 622.4,131.9 623.3,131.9 624.3,131.6 625.2,131.1 626.2,131.3 627.2,130.7 628.2,130.0 629.2,130.0 630.3,129.9 631.3,129.3 632.3,129.3 633.3,128.5 634.4,128.5 635.4,128.6 636.4,128.1 637.4,127.9 638.4,127.3 639.4,127.2 640.4,127.0 641.4,126.5 642.3,126.5 643.3,126.1 644.3,126.1 645.3,125.6 646.3,125.2 647.2,124.7 648.2,124.4 649.2,124.6 650.2,123.8 651.2,123.6 652.1,123.4 653.1,123.3 654.1,123.3 655.1,122.9 656.1,122.8 657.0,122.0 658.0,121.8 659.0,122.1 660.0,121.6 661.1,121.6 662.1,121.2 663.2,120.8 664.2,120.7 665.3,120.4 666.3,120.8 667.4,120.4 668.4,120.1 669.5,120.0 670.5,119.8 671.5,119.4 672.6,119.8 673.6,119.4 674.6,119.6 675.7,119.0 676.7,119.0 677.7,118.6 678.7,118.3 679.8,118.7 680.9,118.5 682.0,117.9 683.2,118.2 684.4,117.9 685.6,117.4 686.8,117.4 687.9,117.4 689.1,116.9 690.2,117.1 691.3,116.4 692.3,116.4 693.3,116.4 694.2,115.9 695.0,115.9 695.8,116.2 696.4,115.8 697.0,115.9" fill="none" stroke="#111" stroke-width="1.35" stroke-linejoin="round"/>
<path d="M693.4 130.2V150.4H680.7" fill="none" stroke="#111" stroke-width="1.15"/>
<g font-size="6.8"><text x="114" y="95.8" letter-spacing="2.05">CONTROL</text><text x="387.2" y="97.3" letter-spacing="3.2">SCOP</text><text x="577.8" y="95.3" letter-spacing="2.3">SCOP+TB</text></g>
<g font-size="6.9"><text x="696.5" y="145" letter-spacing="1.1">1 mV</text><text x="680.2" y="161.6" letter-spacing="1.2">1 ms</text><text x="100" y="129.3">a</text><text x="76" y="146.5" letter-spacing="1.5">b, c</text><text x="352.3" y="129.2">a</text><text x="358" y="141.2">c</text><text x="345" y="166">b</text><text x="549.8" y="132.4">a</text><text x="552" y="151.5">c</text><text x="544.4" y="167.3">b</text></g>
</g>
<g id="panelA">
<text x="64.3" y="182.2" font-size="8.2" font-weight="bold" stroke="#231f20" stroke-width="0.35">A</text>
<path d="M120.4 194.2V431.2H626.3M120.4 431.2h-5M120.4 397.3h-5M120.4 363.5h-5M120.4 329.6h-5M120.4 295.8h-5M120.4 261.9h-5M120.4 228.1h-5M120.4 194.2h-5M120.4 431.2v5M162.6 431.2v5M204.7 431.2v5M246.9 431.2v5M289.0 431.2v5M331.2 431.2v5M373.4 431.2v5M415.5 431.2v5M457.7 431.2v5M499.8 431.2v5M542.0 431.2v5M584.2 431.2v5M626.3 431.2v5" fill="none" stroke="#333" stroke-width="0.9"/>
<g font-size="8.8" class="sp"><text x="114.0" y="435.6" text-anchor="end">0</text><text x="114.0" y="401.7" text-anchor="end">50</text><text x="114.0" y="367.9" text-anchor="end">100</text><text x="114.0" y="334.0" text-anchor="end">150</text><text x="114.0" y="300.2" text-anchor="end">200</text><text x="114.0" y="266.3" text-anchor="end">250</text><text x="114.0" y="232.5" text-anchor="end">300</text><text x="114.0" y="198.6" text-anchor="end">350</text><text x="121.0" y="452.4" text-anchor="middle">0</text><text x="163.2" y="452.4" text-anchor="middle">20</text><text x="205.3" y="452.4" text-anchor="middle">40</text><text x="247.5" y="452.4" text-anchor="middle">60</text><text x="289.6" y="452.4" text-anchor="middle">80</text><text x="331.8" y="452.4" text-anchor="middle">100</text><text x="374.0" y="452.4" text-anchor="middle">120</text><text x="416.1" y="452.4" text-anchor="middle">140</text><text x="458.3" y="452.4" text-anchor="middle">160</text><text x="500.4" y="452.4" text-anchor="middle">180</text><text x="542.6" y="452.4" text-anchor="middle">200</text><text x="584.8" y="452.4" text-anchor="middle">220</text><text x="626.9" y="452.4" text-anchor="middle">240</text></g>
<text transform="translate(79.3 400.2) rotate(-90)" font-size="10" letter-spacing="2.78">fEPSP Slope (% Control)</text>
<text x="334.2 344.4 346.8 361 369 375.3 379.8 394.8 397.2 407.6" y="489.2" font-size="9.7">Time (min)</text>
<path d="M204 365.3H627" stroke="#111" stroke-width="1.1" stroke-dasharray="3 3.3" fill="none"/>
<path d="M120.4 363.5V361.9M117.6 361.9h5.6M122.5 363.4V361.9M119.7 361.9h5.6M124.6 361.5V359.2M121.8 359.2h5.6M126.7 364.7V363.0M123.9 363.0h5.6M128.8 364.2V362.8M126.0 362.8h5.6M130.9 364.9V363.1M128.1 363.1h5.6M133.0 363.0V360.7M130.2 360.7h5.6M135.2 362.8V358.8M132.4 358.8h5.6M137.3 364.5V362.9M134.5 362.9h5.6M139.4 361.3V359.2M136.6 359.2h5.6M141.5 360.8V359.4M138.7 359.4h5.6M143.6 362.9V361.1M140.8 361.1h5.6M145.7 363.5V360.7M142.9 360.7h5.6M147.8 365.2V362.0M145.0 362.0h5.6M149.9 362.1V360.3M147.1 360.3h5.6M152.0 363.1V359.7M149.2 359.7h5.6M154.1 364.2V360.6M151.3 360.6h5.6M156.2 367.0V363.5M153.4 363.5h5.6M158.3 364.9V362.9M155.5 362.9h5.6M160.5 363.5V362.1M157.7 362.1h5.6M162.6 361.5V359.4M159.8 359.4h5.6M164.7 362.3V359.8M161.9 359.8h5.6M166.8 360.8V356.8M164.0 356.8h5.6M168.9 357.4V352.7M166.1 352.7h5.6M171.0 366.2V363.2M168.2 363.2h5.6M173.1 361.2V358.5M170.3 358.5h5.6M175.2 355.4V353.8M172.4 353.8h5.6M177.3 357.7V354.2M174.5 354.2h5.6M179.4 363.5V361.7M176.6 361.7h5.6M181.5 366.6V363.0M178.7 363.0h5.6M183.6 365.5V363.1M180.8 363.1h5.6M185.7 368.6V366.7M182.9 366.7h5.6M187.9 368.6V364.8M185.1 364.8h5.6M190.0 367.0V363.4M187.2 363.4h5.6M192.1 366.9V364.6M189.3 364.6h5.6M194.2 363.1V361.7M191.4 361.7h5.6M196.3 364.2V361.4M193.5 361.4h5.6M198.4 362.1V358.4M195.6 358.4h5.6M200.5 360.8V358.8M197.7 358.8h5.6M202.6 360.7V357.7M199.8 357.7h5.6M204.7 359.4V357.7M201.9 357.7h5.6M206.8 342.5V332.4M204.0 332.4h5.6M208.9 342.5V332.4M206.1 332.4h5.6M211.0 341.8V331.7M208.2 331.7h5.6M213.2 310.0V299.8M210.4 299.8h5.6M215.3 312.0V297.0M212.5 297.0h5.6M217.4 313.4V299.5M214.6 299.5h5.6M219.5 295.8V267.8M216.7 267.8h5.6M221.6 294.4V268.5M218.8 268.5h5.6M223.7 298.5V269.1M220.9 269.1h5.6M225.8 289.2V266.9M223.0 266.9h5.6M227.9 287.7V278.1M225.1 278.1h5.6M230.0 305.3V279.4M227.2 279.4h5.6M232.1 299.2V276.0M229.3 276.0h5.6M234.2 279.9V259.5M231.4 259.5h5.6M236.3 293.6V272.8M233.5 272.8h5.6M238.4 297.8V272.8M235.6 272.8h5.6M240.6 292.4V270.0M237.8 270.0h5.6M242.7 287.7V260.7M239.9 260.7h5.6M244.8 282.6V253.4M242.0 253.4h5.6M246.9 278.8V243.8M244.1 243.8h5.6M249.0 277.5V240.0M246.2 240.0h5.6M251.1 285.2V252.5M248.3 252.5h5.6M253.2 285.2V256.5M250.4 256.5h5.6M255.3 283.6V252.1M252.5 252.1h5.6M257.4 279.6V253.6M254.6 253.6h5.6M259.5 285.0V249.5M256.7 249.5h5.6M261.6 278.9V245.8M258.8 245.8h5.6M263.7 273.5V237.7M260.9 237.7h5.6M265.9 276.8V250.3M263.1 250.3h5.6M268.0 273.5V244.5M265.2 244.5h5.6M270.1 278.2V246.0M267.3 246.0h5.6M272.2 277.5V252.1M269.4 252.1h5.6M274.3 281.6V259.0M271.5 259.0h5.6M276.4 287.7V264.8M273.6 264.8h5.6M278.5 288.2V265.6M275.7 265.6h5.6M280.6 285.0V261.4M277.8 261.4h5.6M282.7 287.0V264.8M279.9 264.8h5.6M284.8 283.6V263.8M282.0 263.8h5.6M286.9 286.5V264.5M284.1 264.5h5.6M289.0 285.0V263.1M286.2 263.1h5.6M291.1 280.9V258.0M288.3 258.0h5.6M293.3 273.5V251.0M290.5 251.0h5.6M295.4 280.9V249.0M292.6 249.0h5.6M297.5 285.0V255.8M294.7 255.8h5.6M299.6 289.2V258.2M296.8 258.2h5.6M301.7 290.4V261.3M298.9 261.3h5.6M303.8 286.3V262.0M301.0 262.0h5.6M305.9 287.7V258.3M303.1 258.3h5.6M308.0 281.6V256.3M305.2 256.3h5.6M310.1 279.9V253.3M307.3 253.3h5.6M312.2 287.0V252.9M309.4 252.9h5.6M314.3 272.1V237.3M311.5 237.3h5.6M316.4 285.2V254.2M313.6 254.2h5.6M318.6 291.7V261.3M315.8 261.3h5.6M320.7 309.3V272.3M317.9 272.3h5.6M322.8 308.0V275.0M320.0 275.0h5.6M324.9 306.6V277.0M322.1 277.0h5.6M327.0 304.6V278.3M324.2 278.3h5.6M329.1 304.6V283.8M326.3 283.8h5.6M331.2 306.6V283.6M328.4 283.6h5.6M333.3 302.6V282.0M330.5 282.0h5.6M335.4 300.5V277.5M332.6 277.5h5.6M337.5 295.8V275.6M334.7 275.6h5.6M339.6 301.2V277.9M336.8 277.9h5.6M341.7 305.3V280.0M338.9 280.0h5.6M343.8 308.9V284.3M341.0 284.3h5.6M346.0 313.1V280.9M343.2 280.9h5.6M348.1 306.0V278.2M345.3 278.2h5.6M350.2 302.6V275.9M347.4 275.9h5.6M352.3 313.1V278.6M349.5 278.6h5.6M354.4 302.6V276.5M351.6 276.5h5.6M356.5 299.2V272.5M353.7 272.5h5.6M358.6 299.2V273.2M355.8 273.2h5.6M360.7 283.2V256.4M357.9 256.4h5.6M362.8 299.2V269.8M360.0 269.8h5.6M364.9 302.6V270.7M362.1 270.7h5.6M367.0 301.2V267.5M364.2 267.5h5.6M369.1 301.2V269.5M366.3 269.5h5.6M371.3 297.2V271.4M368.5 271.4h5.6M373.4 303.9V277.8M370.6 277.8h5.6M375.5 310.0V277.2M372.7 277.2h5.6M377.6 303.9V279.7M374.8 279.7h5.6M379.7 303.9V278.8M376.9 278.8h5.6M381.8 301.9V285.9M379.0 285.9h5.6M383.9 313.0V285.6M381.1 285.6h5.6M386.0 308.0V289.0M383.2 289.0h5.6M388.1 310.0V286.8M385.3 286.8h5.6M390.2 306.2V288.1M387.4 288.1h5.6M392.3 303.9V286.5M389.5 286.5h5.6M394.4 302.2V284.8M391.6 284.8h5.6M396.5 299.2V280.8M393.7 280.8h5.6M398.7 297.8V274.5M395.9 274.5h5.6M400.8 298.5V279.4M398.0 279.4h5.6M402.9 296.3V273.8M400.1 273.8h5.6M405.0 295.1V269.6M402.2 269.6h5.6M407.1 294.4V274.1M404.3 274.1h5.6M409.2 297.2V274.8M406.4 274.8h5.6M411.3 295.1V272.0M408.5 272.0h5.6M413.4 301.9V277.0M410.6 277.0h5.6M415.5 297.8V278.8M412.7 278.8h5.6M417.6 306.0V281.6M414.8 281.6h5.6M419.7 308.8V283.8M416.9 283.8h5.6M421.8 307.3V284.0M419.0 284.0h5.6M424.0 306.0V287.4M421.2 287.4h5.6M426.1 306.0V288.9M423.3 288.9h5.6M428.2 303.9V290.0M425.4 290.0h5.6M430.3 299.2V287.2M427.5 287.2h5.6M432.4 299.2V283.2M429.6 283.2h5.6M434.5 294.4V265.2M431.7 265.2h5.6M436.6 303.9V283.7M433.8 283.7h5.6M438.7 306.6V284.5M435.9 284.5h5.6M440.8 306.6V286.8M438.0 286.8h5.6M442.9 303.6V281.2M440.1 281.2h5.6M445.0 299.9V282.3M442.2 282.3h5.6M447.1 301.9V279.7M444.3 279.7h5.6M449.2 300.2V275.9M446.4 275.9h5.6M451.4 300.5V278.9M448.6 278.9h5.6M453.5 299.2V279.5M450.7 279.5h5.6M455.6 297.2V276.7M452.8 276.7h5.6M457.7 310.7V279.3M454.9 279.3h5.6M459.8 310.7V277.7M457.0 277.7h5.6M461.9 301.9V275.1M459.1 275.1h5.6M464.0 313.1V279.5M461.2 279.5h5.6M466.1 302.6V279.8M463.3 279.8h5.6M468.2 303.6V282.6M465.4 282.6h5.6M470.3 302.6V283.8M467.5 283.8h5.6M472.4 308.7V281.5M469.6 281.5h5.6M474.5 307.5V282.4M471.7 282.4h5.6M476.7 307.3V284.8M473.9 284.8h5.6M478.8 310.1V285.8M476.0 285.8h5.6M480.9 312.4V285.7M478.1 285.7h5.6M483.0 310.6V288.9M480.2 288.9h5.6M485.1 306.6V287.9M482.3 287.9h5.6M487.2 305.7V280.9M484.4 280.9h5.6M489.3 308.0V281.4M486.5 281.4h5.6M491.4 305.6V283.6M488.6 283.6h5.6M493.5 305.3V277.7M490.7 277.7h5.6M495.6 304.3V275.7M492.8 275.7h5.6M497.7 300.5V276.0M494.9 276.0h5.6M499.8 295.8V270.4M497.0 270.4h5.6M501.9 295.8V274.1M499.1 274.1h5.6M504.1 296.5V273.8M501.3 273.8h5.6M506.2 313.7V278.1M503.4 278.1h5.6M508.3 303.9V278.0M505.5 278.0h5.6M510.4 309.3V283.1M507.6 283.1h5.6M512.5 309.3V284.6M509.7 284.6h5.6M514.6 315.1V286.7M511.8 286.7h5.6M516.7 316.1V285.7M513.9 285.7h5.6M518.8 316.1V288.6M516.0 288.6h5.6M520.9 317.5V292.7M518.1 292.7h5.6M523.0 320.4V294.9M520.2 294.9h5.6M525.1 316.1V291.8M522.3 291.8h5.6M527.2 313.3V288.7M524.4 288.7h5.6M529.4 310.7V290.2M526.6 290.2h5.6M531.5 305.6V283.2M528.7 283.2h5.6M533.6 304.6V278.8M530.8 278.8h5.6M535.7 301.7V280.1M532.9 280.1h5.6M537.8 301.2V281.1M535.0 281.1h5.6M539.9 306.0V283.4M537.1 283.4h5.6M542.0 306.0V281.1M539.2 281.1h5.6M544.1 312.7V286.5M541.3 286.5h5.6M546.2 319.2V286.7M543.4 286.7h5.6M548.3 321.7V291.3M545.5 291.3h5.6M550.4 319.5V290.3M547.6 290.3h5.6M552.5 315.9V290.4M549.7 290.4h5.6M554.6 317.1V293.5M551.8 293.5h5.6M556.8 317.1V295.6M554.0 295.6h5.6M558.9 321.5V298.0M556.1 298.0h5.6M561.0 325.7V299.5M558.2 299.5h5.6M563.1 325.7V302.2M560.3 302.2h5.6M565.2 322.9V302.4M562.4 302.4h5.6M567.3 322.9V302.4M564.5 302.4h5.6M569.4 329.0V300.4M566.6 300.4h5.6M571.5 331.1V299.7M568.7 299.7h5.6M573.6 332.4V293.4M570.8 293.4h5.6M575.7 325.6V293.8M572.9 293.8h5.6M577.8 325.6V293.9M575.0 293.9h5.6M579.9 331.7V296.3M577.1 296.3h5.6M582.1 328.4V300.5M579.3 300.5h5.6M584.2 328.3V298.6M581.4 298.6h5.6M586.3 327.3V300.9M583.5 300.9h5.6M588.4 323.1V293.0M585.6 293.0h5.6M590.5 329.6V290.1M587.7 290.1h5.6M592.6 329.6V285.0M589.8 285.0h5.6M594.7 325.0V287.7M591.9 287.7h5.6M596.8 332.4V291.8M594.0 291.8h5.6M598.9 329.0V292.6M596.1 292.6h5.6M601.0 329.0V294.8M598.2 294.8h5.6M603.1 334.4V299.0M600.3 299.0h5.6M605.2 330.0V296.6M602.4 296.6h5.6M607.3 326.4V300.4M604.5 300.4h5.6M609.5 336.4V299.9M606.7 299.9h5.6M611.6 332.4V297.6M608.8 297.6h5.6M613.7 322.4V292.5M610.9 292.5h5.6M615.8 329.8V297.8M613.0 297.8h5.6M617.9 331.7V303.4M615.1 303.4h5.6M620.0 325.6V300.6M617.2 300.6h5.6M622.1 323.7V301.6M619.3 301.6h5.6M624.2 325.4V304.1M621.4 304.1h5.6M626.3 329.0V303.3M623.5 303.3h5.6" stroke="#222" stroke-width="0.7" fill="none" shape-rendering="crispEdges"/>
<g fill="#000" stroke="#1a1a1a" stroke-width="0.7"><circle cx="120.4" cy="363.5" r="3.0"/><circle cx="122.5" cy="363.4" r="3.0"/><circle cx="124.6" cy="361.5" r="3.0"/><circle cx="126.7" cy="364.7" r="3.0"/><circle cx="128.8" cy="364.2" r="3.0"/><circle cx="130.9" cy="364.9" r="3.0"/><circle cx="133.0" cy="363.0" r="3.0"/><circle cx="135.2" cy="362.8" r="3.0"/><circle cx="137.3" cy="364.5" r="3.0"/><circle cx="139.4" cy="361.3" r="3.0"/><circle cx="141.5" cy="360.8" r="3.0"/><circle cx="143.6" cy="362.9" r="3.0"/><circle cx="145.7" cy="363.5" r="3.0"/><circle cx="147.8" cy="365.2" r="3.0"/><circle cx="149.9" cy="362.1" r="3.0"/><circle cx="152.0" cy="363.1" r="3.0"/><circle cx="154.1" cy="364.2" r="3.0"/><circle cx="156.2" cy="367.0" r="3.0"/><circle cx="158.3" cy="364.9" r="3.0"/><circle cx="160.5" cy="363.5" r="3.0"/><circle cx="162.6" cy="361.5" r="3.0"/><circle cx="164.7" cy="362.3" r="3.0"/><circle cx="166.8" cy="360.8" r="3.0"/><circle cx="168.9" cy="357.4" r="3.0"/><circle cx="171.0" cy="366.2" r="3.0"/><circle cx="173.1" cy="361.2" r="3.0"/><circle cx="175.2" cy="355.4" r="3.0"/><circle cx="177.3" cy="357.7" r="3.0"/><circle cx="179.4" cy="363.5" r="3.0"/><circle cx="181.5" cy="366.6" r="3.0"/><circle cx="183.6" cy="365.5" r="3.0"/><circle cx="185.7" cy="368.6" r="3.0"/><circle cx="187.9" cy="368.6" r="3.0"/><circle cx="190.0" cy="367.0" r="3.0"/><circle cx="192.1" cy="366.9" r="3.0"/><circle cx="194.2" cy="363.1" r="3.0"/><circle cx="196.3" cy="364.2" r="3.0"/><circle cx="198.4" cy="362.1" r="3.0"/><circle cx="200.5" cy="360.8" r="3.0"/><circle cx="202.6" cy="360.7" r="3.0"/><circle cx="204.7" cy="359.4" r="3.0"/><circle cx="206.8" cy="342.5" r="3.0"/><circle cx="208.9" cy="342.5" r="3.0"/><circle cx="211.0" cy="341.8" r="3.0"/><circle cx="213.2" cy="310.0" r="3.0"/><circle cx="215.3" cy="312.0" r="3.0"/><circle cx="217.4" cy="313.4" r="3.0"/><circle cx="219.5" cy="295.8" r="3.0"/><circle cx="221.6" cy="294.4" r="3.0"/><circle cx="223.7" cy="298.5" r="3.0"/><circle cx="225.8" cy="289.2" r="3.0"/><circle cx="227.9" cy="287.7" r="3.0"/><circle cx="230.0" cy="305.3" r="3.0"/><circle cx="232.1" cy="299.2" r="3.0"/><circle cx="234.2" cy="279.9" r="3.0"/><circle cx="236.3" cy="293.6" r="3.0"/><circle cx="238.4" cy="297.8" r="3.0"/><circle cx="240.6" cy="292.4" r="3.0"/><circle cx="242.7" cy="287.7" r="3.0"/><circle cx="244.8" cy="282.6" r="3.0"/><circle cx="246.9" cy="278.8" r="3.0"/><circle cx="249.0" cy="277.5" r="3.0"/><circle cx="251.1" cy="285.2" r="3.0"/><circle cx="253.2" cy="285.2" r="3.0"/><circle cx="255.3" cy="283.6" r="3.0"/><circle cx="257.4" cy="279.6" r="3.0"/><circle cx="259.5" cy="285.0" r="3.0"/><circle cx="261.6" cy="278.9" r="3.0"/><circle cx="263.7" cy="273.5" r="3.0"/><circle cx="265.9" cy="276.8" r="3.0"/><circle cx="268.0" cy="273.5" r="3.0"/><circle cx="270.1" cy="278.2" r="3.0"/><circle cx="272.2" cy="277.5" r="3.0"/><circle cx="274.3" cy="281.6" r="3.0"/><circle cx="276.4" cy="287.7" r="3.0"/><circle cx="278.5" cy="288.2" r="3.0"/><circle cx="280.6" cy="285.0" r="3.0"/><circle cx="282.7" cy="287.0" r="3.0"/><circle cx="284.8" cy="283.6" r="3.0"/><circle cx="286.9" cy="286.5" r="3.0"/><circle cx="289.0" cy="285.0" r="3.0"/><circle cx="291.1" cy="280.9" r="3.0"/><circle cx="293.3" cy="273.5" r="3.0"/><circle cx="295.4" cy="280.9" r="3.0"/><circle cx="297.5" cy="285.0" r="3.0"/><circle cx="299.6" cy="289.2" r="3.0"/><circle cx="301.7" cy="290.4" r="3.0"/><circle cx="303.8" cy="286.3" r="3.0"/><circle cx="305.9" cy="287.7" r="3.0"/><circle cx="308.0" cy="281.6" r="3.0"/><circle cx="310.1" cy="279.9" r="3.0"/><circle cx="312.2" cy="287.0" r="3.0"/><circle cx="314.3" cy="272.1" r="3.0"/><circle cx="316.4" cy="285.2" r="3.0"/><circle cx="318.6" cy="291.7" r="3.0"/><circle cx="320.7" cy="309.3" r="3.0"/><circle cx="322.8" cy="308.0" r="3.0"/><circle cx="324.9" cy="306.6" r="3.0"/><circle cx="327.0" cy="304.6" r="3.0"/><circle cx="329.1" cy="304.6" r="3.0"/><circle cx="331.2" cy="306.6" r="3.0"/><circle cx="333.3" cy="302.6" r="3.0"/><circle cx="335.4" cy="300.5" r="3.0"/><circle cx="337.5" cy="295.8" r="3.0"/><circle cx="339.6" cy="301.2" r="3.0"/><circle cx="341.7" cy="305.3" r="3.0"/><circle cx="343.8" cy="308.9" r="3.0"/><circle cx="346.0" cy="313.1" r="3.0"/><circle cx="348.1" cy="306.0" r="3.0"/><circle cx="350.2" cy="302.6" r="3.0"/><circle cx="352.3" cy="313.1" r="3.0"/><circle cx="354.4" cy="302.6" r="3.0"/><circle cx="356.5" cy="299.2" r="3.0"/><circle cx="358.6" cy="299.2" r="3.0"/><circle cx="360.7" cy="283.2" r="3.0"/><circle cx="362.8" cy="299.2" r="3.0"/><circle cx="364.9" cy="302.6" r="3.0"/><circle cx="367.0" cy="301.2" r="3.0"/><circle cx="369.1" cy="301.2" r="3.0"/><circle cx="371.3" cy="297.2" r="3.0"/><circle cx="373.4" cy="303.9" r="3.0"/><circle cx="375.5" cy="310.0" r="3.0"/><circle cx="377.6" cy="303.9" r="3.0"/><circle cx="379.7" cy="303.9" r="3.0"/><circle cx="381.8" cy="301.9" r="3.0"/><circle cx="383.9" cy="313.0" r="3.0"/><circle cx="386.0" cy="308.0" r="3.0"/><circle cx="388.1" cy="310.0" r="3.0"/><circle cx="390.2" cy="306.2" r="3.0"/><circle cx="392.3" cy="303.9" r="3.0"/><circle cx="394.4" cy="302.2" r="3.0"/><circle cx="396.5" cy="299.2" r="3.0"/><circle cx="398.7" cy="297.8" r="3.0"/><circle cx="400.8" cy="298.5" r="3.0"/><circle cx="402.9" cy="296.3" r="3.0"/><circle cx="405.0" cy="295.1" r="3.0"/><circle cx="407.1" cy="294.4" r="3.0"/><circle cx="409.2" cy="297.2" r="3.0"/><circle cx="411.3" cy="295.1" r="3.0"/><circle cx="413.4" cy="301.9" r="3.0"/><circle cx="415.5" cy="297.8" r="3.0"/><circle cx="417.6" cy="306.0" r="3.0"/><circle cx="419.7" cy="308.8" r="3.0"/><circle cx="421.8" cy="307.3" r="3.0"/><circle cx="424.0" cy="306.0" r="3.0"/><circle cx="426.1" cy="306.0" r="3.0"/><circle cx="428.2" cy="303.9" r="3.0"/><circle cx="430.3" cy="299.2" r="3.0"/><circle cx="432.4" cy="299.2" r="3.0"/><circle cx="434.5" cy="294.4" r="3.0"/><circle cx="436.6" cy="303.9" r="3.0"/><circle cx="438.7" cy="306.6" r="3.0"/><circle cx="440.8" cy="306.6" r="3.0"/><circle cx="442.9" cy="303.6" r="3.0"/><circle cx="445.0" cy="299.9" r="3.0"/><circle cx="447.1" cy="301.9" r="3.0"/><circle cx="449.2" cy="300.2" r="3.0"/><circle cx="451.4" cy="300.5" r="3.0"/><circle cx="453.5" cy="299.2" r="3.0"/><circle cx="455.6" cy="297.2" r="3.0"/><circle cx="457.7" cy="310.7" r="3.0"/><circle cx="459.8" cy="310.7" r="3.0"/><circle cx="461.9" cy="301.9" r="3.0"/><circle cx="464.0" cy="313.1" r="3.0"/><circle cx="466.1" cy="302.6" r="3.0"/><circle cx="468.2" cy="303.6" r="3.0"/><circle cx="470.3" cy="302.6" r="3.0"/><circle cx="472.4" cy="308.7" r="3.0"/><circle cx="474.5" cy="307.5" r="3.0"/><circle cx="476.7" cy="307.3" r="3.0"/><circle cx="478.8" cy="310.1" r="3.0"/><circle cx="480.9" cy="312.4" r="3.0"/><circle cx="483.0" cy="310.6" r="3.0"/><circle cx="485.1" cy="306.6" r="3.0"/><circle cx="487.2" cy="305.7" r="3.0"/><circle cx="489.3" cy="308.0" r="3.0"/><circle cx="491.4" cy="305.6" r="3.0"/><circle cx="493.5" cy="305.3" r="3.0"/><circle cx="495.6" cy="304.3" r="3.0"/><circle cx="497.7" cy="300.5" r="3.0"/><circle cx="499.8" cy="295.8" r="3.0"/><circle cx="501.9" cy="295.8" r="3.0"/><circle cx="504.1" cy="296.5" r="3.0"/><circle cx="506.2" cy="313.7" r="3.0"/><circle cx="508.3" cy="303.9" r="3.0"/><circle cx="510.4" cy="309.3" r="3.0"/><circle cx="512.5" cy="309.3" r="3.0"/><circle cx="514.6" cy="315.1" r="3.0"/><circle cx="516.7" cy="316.1" r="3.0"/><circle cx="518.8" cy="316.1" r="3.0"/><circle cx="520.9" cy="317.5" r="3.0"/><circle cx="523.0" cy="320.4" r="3.0"/><circle cx="525.1" cy="316.1" r="3.0"/><circle cx="527.2" cy="313.3" r="3.0"/><circle cx="529.4" cy="310.7" r="3.0"/><circle cx="531.5" cy="305.6" r="3.0"/><circle cx="533.6" cy="304.6" r="3.0"/><circle cx="535.7" cy="301.7" r="3.0"/><circle cx="537.8" cy="301.2" r="3.0"/><circle cx="539.9" cy="306.0" r="3.0"/><circle cx="542.0" cy="306.0" r="3.0"/><circle cx="544.1" cy="312.7" r="3.0"/><circle cx="546.2" cy="319.2" r="3.0"/><circle cx="548.3" cy="321.7" r="3.0"/><circle cx="550.4" cy="319.5" r="3.0"/><circle cx="552.5" cy="315.9" r="3.0"/><circle cx="554.6" cy="317.1" r="3.0"/><circle cx="556.8" cy="317.1" r="3.0"/><circle cx="558.9" cy="321.5" r="3.0"/><circle cx="561.0" cy="325.7" r="3.0"/><circle cx="563.1" cy="325.7" r="3.0"/><circle cx="565.2" cy="322.9" r="3.0"/><circle cx="567.3" cy="322.9" r="3.0"/><circle cx="569.4" cy="329.0" r="3.0"/><circle cx="571.5" cy="331.1" r="3.0"/><circle cx="573.6" cy="332.4" r="3.0"/><circle cx="575.7" cy="325.6" r="3.0"/><circle cx="577.8" cy="325.6" r="3.0"/><circle cx="579.9" cy="331.7" r="3.0"/><circle cx="582.1" cy="328.4" r="3.0"/><circle cx="584.2" cy="328.3" r="3.0"/><circle cx="586.3" cy="327.3" r="3.0"/><circle cx="588.4" cy="323.1" r="3.0"/><circle cx="590.5" cy="329.6" r="3.0"/><circle cx="592.6" cy="329.6" r="3.0"/><circle cx="594.7" cy="325.0" r="3.0"/><circle cx="596.8" cy="332.4" r="3.0"/><circle cx="598.9" cy="329.0" r="3.0"/><circle cx="601.0" cy="329.0" r="3.0"/><circle cx="603.1" cy="334.4" r="3.0"/><circle cx="605.2" cy="330.0" r="3.0"/><circle cx="607.3" cy="326.4" r="3.0"/><circle cx="609.5" cy="336.4" r="3.0"/><circle cx="611.6" cy="332.4" r="3.0"/><circle cx="613.7" cy="322.4" r="3.0"/><circle cx="615.8" cy="329.8" r="3.0"/><circle cx="617.9" cy="331.7" r="3.0"/><circle cx="620.0" cy="325.6" r="3.0"/><circle cx="622.1" cy="323.7" r="3.0"/><circle cx="624.2" cy="325.4" r="3.0"/><circle cx="626.3" cy="329.0" r="3.0"/></g>
<path d="M120.4 366.2V363.1M117.6 363.1h5.6M122.5 366.1V364.2M119.7 364.2h5.6M124.6 368.9V367.4M121.8 367.4h5.6M126.7 369.0V367.3M123.9 367.3h5.6M128.8 367.8V364.1M126.0 364.1h5.6M130.9 370.3V368.2M128.1 368.2h5.6M133.0 370.4V368.7M130.2 368.7h5.6M135.2 367.4V364.8M132.4 364.8h5.6M137.3 367.6V365.9M134.5 365.9h5.6M139.4 366.4V362.8M136.6 362.8h5.6M141.5 366.2V362.3M138.7 362.3h5.6M143.6 366.8V364.0M140.8 364.0h5.6M145.7 368.2V364.2M142.9 364.2h5.6M147.8 368.6V366.5M145.0 366.5h5.6M149.9 366.6V363.2M147.1 363.2h5.6M152.0 368.6V366.3M149.2 366.3h5.6M154.1 366.3V362.3M151.3 362.3h5.6M156.2 368.9V365.4M153.4 365.4h5.6M158.3 368.9V366.2M155.5 366.2h5.6M160.5 367.8V366.4M157.7 366.4h5.6M162.6 370.8V367.6M159.8 367.6h5.6M164.7 368.2V364.3M161.9 364.3h5.6M166.8 366.7V364.4M164.0 364.4h5.6M168.9 366.5V364.7M166.1 364.7h5.6M171.0 366.9V363.1M168.2 363.1h5.6M173.1 363.8V360.6M170.3 360.6h5.6M175.2 364.2V361.1M172.4 361.1h5.6M177.3 365.5V362.1M174.5 362.1h5.6M179.4 366.9V363.4M176.6 363.4h5.6M181.5 366.6V362.6M178.7 362.6h5.6M183.6 366.2V362.3M180.8 362.3h5.6M185.7 366.0V364.3M182.9 364.3h5.6M187.9 367.6V364.0M185.1 364.0h5.6M190.0 368.8V364.8M187.2 364.8h5.6M192.1 364.9V362.0M189.3 362.0h5.6M194.2 363.7V359.7M191.4 359.7h5.6M196.3 362.1V358.3M193.5 358.3h5.6M198.4 363.3V359.7M195.6 359.7h5.6M200.5 360.8V358.6M197.7 358.6h5.6M202.6 359.4V357.4M199.8 357.4h5.6M204.7 317.5V310.7M201.9 310.7h5.6M206.8 291.1V262.1M204.0 262.1h5.6M208.9 291.1V254.1M206.1 254.1h5.6M211.0 292.4V258.4M208.2 258.4h5.6M213.2 295.8V260.9M210.4 260.9h5.6M215.3 293.8V264.2M212.5 264.2h5.6M217.4 297.2V266.0M214.6 266.0h5.6M219.5 291.7V283.3M216.7 283.3h5.6M221.6 293.1V283.5M218.8 283.5h5.6M223.7 288.4V278.8M220.9 278.8h5.6M225.8 282.3V273.5M223.0 273.5h5.6M227.9 290.4V281.2M225.1 281.2h5.6M230.0 287.7V279.7M227.2 279.7h5.6M232.1 292.4V282.3M229.3 282.3h5.6M234.2 290.4V281.9M231.4 281.9h5.6M236.3 293.1V286.9M233.5 286.9h5.6M238.4 287.0V281.2M235.6 281.2h5.6M240.6 290.4V281.3M237.8 281.3h5.6M242.7 290.4V284.1M239.9 284.1h5.6M244.8 292.4V286.2M242.0 286.2h5.6M246.9 297.2V290.5M244.1 290.5h5.6M249.0 299.2V291.1M246.2 291.1h5.6M251.1 301.2V294.9M248.3 294.9h5.6M253.2 302.6V295.3M250.4 295.3h5.6M255.3 306.6V297.3M252.5 297.3h5.6M257.4 302.6V294.8M254.6 294.8h5.6M259.5 299.2V290.4M256.7 290.4h5.6M261.6 308.7V297.9M258.8 297.9h5.6M263.7 303.9V297.9M260.9 297.9h5.6M265.9 303.9V294.3M263.1 294.3h5.6M268.0 300.5V292.8M265.2 292.8h5.6M270.1 303.2V296.4M267.3 296.4h5.6M272.2 291.1V282.6M269.4 282.6h5.6M274.3 297.2V291.4M271.5 291.4h5.6M276.4 297.2V291.3M273.6 291.3h5.6M278.5 303.9V294.2M275.7 294.2h5.6M280.6 294.4V288.7M277.8 288.7h5.6M282.7 293.8V286.5M279.9 286.5h5.6M284.8 295.8V288.9M282.0 288.9h5.6M286.9 290.4V283.7M284.1 283.7h5.6M289.0 292.4V286.7M286.2 286.7h5.6M291.1 288.4V281.3M288.3 281.3h5.6M293.3 294.6V286.4M290.5 286.4h5.6M295.4 295.8V290.3M292.6 290.3h5.6M297.5 303.9V294.5M294.7 294.5h5.6M299.6 302.6V294.6M296.8 294.6h5.6M301.7 306.6V296.8M298.9 296.8h5.6M303.8 299.2V289.2M301.0 289.2h5.6M305.9 293.1V284.0M303.1 284.0h5.6M308.0 304.6V294.7M305.2 294.7h5.6M310.1 301.2V293.6M307.3 293.6h5.6M312.2 307.3V301.2M309.4 301.2h5.6M314.3 302.6V295.8M311.5 295.8h5.6M316.4 295.8V285.8M313.6 285.8h5.6M318.6 296.5V289.5M315.8 289.5h5.6M320.7 296.5V288.6M317.9 288.6h5.6M322.8 301.9V295.1M320.0 295.1h5.6M324.9 295.8V287.4M322.1 287.4h5.6M327.0 295.8V288.7M324.2 288.7h5.6M329.1 295.1V287.6M326.3 287.6h5.6M331.2 298.5V292.0M328.4 292.0h5.6M333.3 300.5V293.7M330.5 293.7h5.6M335.4 306.6V301.0M332.6 301.0h5.6M337.5 301.2V294.5M334.7 294.5h5.6M339.6 301.2V291.7M336.8 291.7h5.6M341.7 297.8V287.7M338.9 287.7h5.6M343.8 299.9V289.1M341.0 289.1h5.6M346.0 301.2V292.3M343.2 292.3h5.6M348.1 306.6V296.4M345.3 296.4h5.6M350.2 309.3V299.5M347.4 299.5h5.6M352.3 295.1V287.0M349.5 287.0h5.6M354.4 297.2V287.3M351.6 287.3h5.6M356.5 297.2V288.0M353.7 288.0h5.6M358.6 304.6V299.0M355.8 299.0h5.6M360.7 294.4V288.5M357.9 288.5h5.6M362.8 311.4V302.6M360.0 302.6h5.6M364.9 318.4V310.3M362.1 310.3h5.6M367.0 307.3V297.8M364.2 297.8h5.6M369.1 315.1V306.1M366.3 306.1h5.6M371.3 305.3V298.5M368.5 298.5h5.6M373.4 309.3V300.0M370.6 300.0h5.6M375.5 305.3V294.6M372.7 294.6h5.6M377.6 305.3V297.3M374.8 297.3h5.6M379.7 306.6V297.9M376.9 297.9h5.6M381.8 312.4V306.2M379.0 306.2h5.6M383.9 302.6V295.5M381.1 295.5h5.6M386.0 299.2V293.4M383.2 293.4h5.6M388.1 305.3V296.1M385.3 296.1h5.6M390.2 299.2V291.0M387.4 291.0h5.6M392.3 303.9V297.9M389.5 297.9h5.6M394.4 311.7V301.0M391.6 301.0h5.6M396.5 306.6V298.7M393.7 298.7h5.6M398.7 312.0V304.2M395.9 304.2h5.6M400.8 312.1V301.5M398.0 301.5h5.6M402.9 307.3V301.1M400.1 301.1h5.6M405.0 315.8V309.6M402.2 309.6h5.6M407.1 303.9V293.7M404.3 293.7h5.6M409.2 309.3V299.1M406.4 299.1h5.6M411.3 309.3V303.9M408.5 303.9h5.6M413.4 310.4V303.3M410.6 303.3h5.6M415.5 313.1V306.0M412.7 306.0h5.6M417.6 317.7V308.3M414.8 308.3h5.6M419.7 318.8V308.4M416.9 308.4h5.6M421.8 325.0V318.1M419.0 318.1h5.6M424.0 321.7V310.9M421.2 310.9h5.6M426.1 318.7V311.0M423.3 311.0h5.6M428.2 313.7V307.8M425.4 307.8h5.6M430.3 308.0V297.5M427.5 297.5h5.6M432.4 319.7V311.5M429.6 311.5h5.6M434.5 309.7V299.2M431.7 299.2h5.6M436.6 317.5V308.6M433.8 308.6h5.6M438.7 321.1V312.7M435.9 312.7h5.6M440.8 312.0V302.7M438.0 302.7h5.6M442.9 312.0V303.1M440.1 303.1h5.6M445.0 316.1V305.7M442.2 305.7h5.6M447.1 325.7V318.4M444.3 318.4h5.6M449.2 310.7V300.0M446.4 300.0h5.6M451.4 313.2V306.2M448.6 306.2h5.6M453.5 313.1V306.7M450.7 306.7h5.6M455.6 311.1V300.8M452.8 300.8h5.6M457.7 308.0V297.7M454.9 297.7h5.6M459.8 320.4V314.2M457.0 314.2h5.6M461.9 321.5V314.3M459.1 314.3h5.6M464.0 319.6V312.8M461.2 312.8h5.6M466.1 322.4V312.9M463.3 312.9h5.6M468.2 317.5V309.2M465.4 309.2h5.6M470.3 317.7V312.0M467.5 312.0h5.6M472.4 313.1V307.0M469.6 307.0h5.6M474.5 313.1V303.0M471.7 303.0h5.6M476.7 312.0V305.3M473.9 305.3h5.6M478.8 315.8V305.2M476.0 305.2h5.6M480.9 307.3V301.8M478.1 301.8h5.6M483.0 321.7V311.5M480.2 311.5h5.6M485.1 318.1V312.7M482.3 312.7h5.6M487.2 313.4V303.5M484.4 303.5h5.6M489.3 308.7V301.9M486.5 301.9h5.6M491.4 311.7V303.4M488.6 303.4h5.6M493.5 310.0V300.7M490.7 300.7h5.6M495.6 317.7V309.8M492.8 309.8h5.6M497.7 305.3V295.6M494.9 295.6h5.6M499.8 309.3V300.4M497.0 300.4h5.6M501.9 305.5V298.7M499.1 298.7h5.6M504.1 301.9V295.9M501.3 295.9h5.6M506.2 306.6V298.1M503.4 298.1h5.6M508.3 312.7V304.1M505.5 304.1h5.6M510.4 308.7V300.8M507.6 300.8h5.6M512.5 308.7V298.5M509.7 298.5h5.6M514.6 303.2V296.5M511.8 296.5h5.6M516.7 306.6V299.6M513.9 299.6h5.6M518.8 299.2V290.1M516.0 290.1h5.6M520.9 312.7V303.7M518.1 303.7h5.6M523.0 310.7V305.1M520.2 305.1h5.6M525.1 308.7V299.6M522.3 299.6h5.6M527.2 308.7V299.2M524.4 299.2h5.6M529.4 315.1V304.4M526.6 304.4h5.6M531.5 308.7V302.0M528.7 302.0h5.6M533.6 308.7V301.6M530.8 301.6h5.6M535.7 311.4V304.9M532.9 304.9h5.6M537.8 317.1V308.0M535.0 308.0h5.6M539.9 311.4V303.8M537.1 303.8h5.6M542.0 311.4V305.2M539.2 305.2h5.6M544.1 308.7V301.1M541.3 301.1h5.6M546.2 306.0V296.6M543.4 296.6h5.6M548.3 307.3V300.1M545.5 300.1h5.6M550.4 312.7V303.3M547.6 303.3h5.6M552.5 310.0V302.6M549.7 302.6h5.6M554.6 308.7V302.3M551.8 302.3h5.6M556.8 305.6V298.3M554.0 298.3h5.6M558.9 303.9V293.3M556.1 293.3h5.6M561.0 306.0V296.2M558.2 296.2h5.6M563.1 310.0V304.3M560.3 304.3h5.6M565.2 311.4V301.0M562.4 301.0h5.6M567.3 312.3V302.0M564.5 302.0h5.6M569.4 315.8V306.0M566.6 306.0h5.6M571.5 309.3V303.7M568.7 303.7h5.6M573.6 299.9V293.1M570.8 293.1h5.6M575.7 312.7V305.5M572.9 305.5h5.6M577.8 299.2V290.4M575.0 290.4h5.6M579.9 306.0V298.8M577.1 298.8h5.6M582.1 309.3V299.8M579.3 299.8h5.6M584.2 303.2V292.7M581.4 292.7h5.6M586.3 316.4V308.4M583.5 308.4h5.6M588.4 312.0V304.5M585.6 304.5h5.6M590.5 317.7V309.6M587.7 309.6h5.6M592.6 312.7V303.0M589.8 303.0h5.6M594.7 297.8V288.2M591.9 288.2h5.6M596.8 300.5V293.4M594.0 293.4h5.6M598.9 305.3V299.4M596.1 299.4h5.6M601.0 301.9V295.1M598.2 295.1h5.6M603.1 302.6V294.2M600.3 294.2h5.6M605.2 304.6V294.4M602.4 294.4h5.6M607.3 308.7V302.8M604.5 302.8h5.6M609.5 310.7V301.4M606.7 301.4h5.6M611.6 310.7V303.0M608.8 303.0h5.6M613.7 312.7V303.3M610.9 303.3h5.6M615.8 313.7V307.7M613.0 307.7h5.6M617.9 319.1V310.6M615.1 310.6h5.6M620.0 316.1V309.6M617.2 309.6h5.6M622.1 312.3V306.0M619.3 306.0h5.6M624.2 313.1V305.9M621.4 305.9h5.6M626.3 317.1V308.9M623.5 308.9h5.6" stroke="#222" stroke-width="0.7" fill="none" shape-rendering="crispEdges"/>
<g fill="#fff" stroke="#1a1a1a" stroke-width="0.7"><circle cx="120.4" cy="366.2" r="3.0"/><circle cx="122.5" cy="366.1" r="3.0"/><circle cx="124.6" cy="368.9" r="3.0"/><circle cx="126.7" cy="369.0" r="3.0"/><circle cx="128.8" cy="367.8" r="3.0"/><circle cx="130.9" cy="370.3" r="3.0"/><circle cx="133.0" cy="370.4" r="3.0"/><circle cx="135.2" cy="367.4" r="3.0"/><circle cx="137.3" cy="367.6" r="3.0"/><circle cx="139.4" cy="366.4" r="3.0"/><circle cx="141.5" cy="366.2" r="3.0"/><circle cx="143.6" cy="366.8" r="3.0"/><circle cx="145.7" cy="368.2" r="3.0"/><circle cx="147.8" cy="368.6" r="3.0"/><circle cx="149.9" cy="366.6" r="3.0"/><circle cx="152.0" cy="368.6" r="3.0"/><circle cx="154.1" cy="366.3" r="3.0"/><circle cx="156.2" cy="368.9" r="3.0"/><circle cx="158.3" cy="368.9" r="3.0"/><circle cx="160.5" cy="367.8" r="3.0"/><circle cx="162.6" cy="370.8" r="3.0"/><circle cx="164.7" cy="368.2" r="3.0"/><circle cx="166.8" cy="366.7" r="3.0"/><circle cx="168.9" cy="366.5" r="3.0"/><circle cx="171.0" cy="366.9" r="3.0"/><circle cx="173.1" cy="363.8" r="3.0"/><circle cx="175.2" cy="364.2" r="3.0"/><circle cx="177.3" cy="365.5" r="3.0"/><circle cx="179.4" cy="366.9" r="3.0"/><circle cx="181.5" cy="366.6" r="3.0"/><circle cx="183.6" cy="366.2" r="3.0"/><circle cx="185.7" cy="366.0" r="3.0"/><circle cx="187.9" cy="367.6" r="3.0"/><circle cx="190.0" cy="368.8" r="3.0"/><circle cx="192.1" cy="364.9" r="3.0"/><circle cx="194.2" cy="363.7" r="3.0"/><circle cx="196.3" cy="362.1" r="3.0"/><circle cx="198.4" cy="363.3" r="3.0"/><circle cx="200.5" cy="360.8" r="3.0"/><circle cx="202.6" cy="359.4" r="3.0"/><circle cx="204.7" cy="317.5" r="3.0"/><circle cx="206.8" cy="291.1" r="3.0"/><circle cx="208.9" cy="291.1" r="3.0"/><circle cx="211.0" cy="292.4" r="3.0"/><circle cx="213.2" cy="295.8" r="3.0"/><circle cx="215.3" cy="293.8" r="3.0"/><circle cx="217.4" cy="297.2" r="3.0"/><circle cx="219.5" cy="291.7" r="3.0"/><circle cx="221.6" cy="293.1" r="3.0"/><circle cx="223.7" cy="288.4" r="3.0"/><circle cx="225.8" cy="282.3" r="3.0"/><circle cx="227.9" cy="290.4" r="3.0"/><circle cx="230.0" cy="287.7" r="3.0"/><circle cx="232.1" cy="292.4" r="3.0"/><circle cx="234.2" cy="290.4" r="3.0"/><circle cx="236.3" cy="293.1" r="3.0"/><circle cx="238.4" cy="287.0" r="3.0"/><circle cx="240.6" cy="290.4" r="3.0"/><circle cx="242.7" cy="290.4" r="3.0"/><circle cx="244.8" cy="292.4" r="3.0"/><circle cx="246.9" cy="297.2" r="3.0"/><circle cx="249.0" cy="299.2" r="3.0"/><circle cx="251.1" cy="301.2" r="3.0"/><circle cx="253.2" cy="302.6" r="3.0"/><circle cx="255.3" cy="306.6" r="3.0"/><circle cx="257.4" cy="302.6" r="3.0"/><circle cx="259.5" cy="299.2" r="3.0"/><circle cx="261.6" cy="308.7" r="3.0"/><circle cx="263.7" cy="303.9" r="3.0"/><circle cx="265.9" cy="303.9" r="3.0"/><circle cx="268.0" cy="300.5" r="3.0"/><circle cx="270.1" cy="303.2" r="3.0"/><circle cx="272.2" cy="291.1" r="3.0"/><circle cx="274.3" cy="297.2" r="3.0"/><circle cx="276.4" cy="297.2" r="3.0"/><circle cx="278.5" cy="303.9" r="3.0"/><circle cx="280.6" cy="294.4" r="3.0"/><circle cx="282.7" cy="293.8" r="3.0"/><circle cx="284.8" cy="295.8" r="3.0"/><circle cx="286.9" cy="290.4" r="3.0"/><circle cx="289.0" cy="292.4" r="3.0"/><circle cx="291.1" cy="288.4" r="3.0"/><circle cx="293.3" cy="294.6" r="3.0"/><circle cx="295.4" cy="295.8" r="3.0"/><circle cx="297.5" cy="303.9" r="3.0"/><circle cx="299.6" cy="302.6" r="3.0"/><circle cx="301.7" cy="306.6" r="3.0"/><circle cx="303.8" cy="299.2" r="3.0"/><circle cx="305.9" cy="293.1" r="3.0"/><circle cx="308.0" cy="304.6" r="3.0"/><circle cx="310.1" cy="301.2" r="3.0"/><circle cx="312.2" cy="307.3" r="3.0"/><circle cx="314.3" cy="302.6" r="3.0"/><circle cx="316.4" cy="295.8" r="3.0"/><circle cx="318.6" cy="296.5" r="3.0"/><circle cx="320.7" cy="296.5" r="3.0"/><circle cx="322.8" cy="301.9" r="3.0"/><circle cx="324.9" cy="295.8" r="3.0"/><circle cx="327.0" cy="295.8" r="3.0"/><circle cx="329.1" cy="295.1" r="3.0"/><circle cx="331.2" cy="298.5" r="3.0"/><circle cx="333.3" cy="300.5" r="3.0"/><circle cx="335.4" cy="306.6" r="3.0"/><circle cx="337.5" cy="301.2" r="3.0"/><circle cx="339.6" cy="301.2" r="3.0"/><circle cx="341.7" cy="297.8" r="3.0"/><circle cx="343.8" cy="299.9" r="3.0"/><circle cx="346.0" cy="301.2" r="3.0"/><circle cx="348.1" cy="306.6" r="3.0"/><circle cx="350.2" cy="309.3" r="3.0"/><circle cx="352.3" cy="295.1" r="3.0"/><circle cx="354.4" cy="297.2" r="3.0"/><circle cx="356.5" cy="297.2" r="3.0"/><circle cx="358.6" cy="304.6" r="3.0"/><circle cx="360.7" cy="294.4" r="3.0"/><circle cx="362.8" cy="311.4" r="3.0"/><circle cx="364.9" cy="318.4" r="3.0"/><circle cx="367.0" cy="307.3" r="3.0"/><circle cx="369.1" cy="315.1" r="3.0"/><circle cx="371.3" cy="305.3" r="3.0"/><circle cx="373.4" cy="309.3" r="3.0"/><circle cx="375.5" cy="305.3" r="3.0"/><circle cx="377.6" cy="305.3" r="3.0"/><circle cx="379.7" cy="306.6" r="3.0"/><circle cx="381.8" cy="312.4" r="3.0"/><circle cx="383.9" cy="302.6" r="3.0"/><circle cx="386.0" cy="299.2" r="3.0"/><circle cx="388.1" cy="305.3" r="3.0"/><circle cx="390.2" cy="299.2" r="3.0"/><circle cx="392.3" cy="303.9" r="3.0"/><circle cx="394.4" cy="311.7" r="3.0"/><circle cx="396.5" cy="306.6" r="3.0"/><circle cx="398.7" cy="312.0" r="3.0"/><circle cx="400.8" cy="312.1" r="3.0"/><circle cx="402.9" cy="307.3" r="3.0"/><circle cx="405.0" cy="315.8" r="3.0"/><circle cx="407.1" cy="303.9" r="3.0"/><circle cx="409.2" cy="309.3" r="3.0"/><circle cx="411.3" cy="309.3" r="3.0"/><circle cx="413.4" cy="310.4" r="3.0"/><circle cx="415.5" cy="313.1" r="3.0"/><circle cx="417.6" cy="317.7" r="3.0"/><circle cx="419.7" cy="318.8" r="3.0"/><circle cx="421.8" cy="325.0" r="3.0"/><circle cx="424.0" cy="321.7" r="3.0"/><circle cx="426.1" cy="318.7" r="3.0"/><circle cx="428.2" cy="313.7" r="3.0"/><circle cx="430.3" cy="308.0" r="3.0"/><circle cx="432.4" cy="319.7" r="3.0"/><circle cx="434.5" cy="309.7" r="3.0"/><circle cx="436.6" cy="317.5" r="3.0"/><circle cx="438.7" cy="321.1" r="3.0"/><circle cx="440.8" cy="312.0" r="3.0"/><circle cx="442.9" cy="312.0" r="3.0"/><circle cx="445.0" cy="316.1" r="3.0"/><circle cx="447.1" cy="325.7" r="3.0"/><circle cx="449.2" cy="310.7" r="3.0"/><circle cx="451.4" cy="313.2" r="3.0"/><circle cx="453.5" cy="313.1" r="3.0"/><circle cx="455.6" cy="311.1" r="3.0"/><circle cx="457.7" cy="308.0" r="3.0"/><circle cx="459.8" cy="320.4" r="3.0"/><circle cx="461.9" cy="321.5" r="3.0"/><circle cx="464.0" cy="319.6" r="3.0"/><circle cx="466.1" cy="322.4" r="3.0"/><circle cx="468.2" cy="317.5" r="3.0"/><circle cx="470.3" cy="317.7" r="3.0"/><circle cx="472.4" cy="313.1" r="3.0"/><circle cx="474.5" cy="313.1" r="3.0"/><circle cx="476.7" cy="312.0" r="3.0"/><circle cx="478.8" cy="315.8" r="3.0"/><circle cx="480.9" cy="307.3" r="3.0"/><circle cx="483.0" cy="321.7" r="3.0"/><circle cx="485.1" cy="318.1" r="3.0"/><circle cx="487.2" cy="313.4" r="3.0"/><circle cx="489.3" cy="308.7" r="3.0"/><circle cx="491.4" cy="311.7" r="3.0"/><circle cx="493.5" cy="310.0" r="3.0"/><circle cx="495.6" cy="317.7" r="3.0"/><circle cx="497.7" cy="305.3" r="3.0"/><circle cx="499.8" cy="309.3" r="3.0"/><circle cx="501.9" cy="305.5" r="3.0"/><circle cx="504.1" cy="301.9" r="3.0"/><circle cx="506.2" cy="306.6" r="3.0"/><circle cx="508.3" cy="312.7" r="3.0"/><circle cx="510.4" cy="308.7" r="3.0"/><circle cx="512.5" cy="308.7" r="3.0"/><circle cx="514.6" cy="303.2" r="3.0"/><circle cx="516.7" cy="306.6" r="3.0"/><circle cx="518.8" cy="299.2" r="3.0"/><circle cx="520.9" cy="312.7" r="3.0"/><circle cx="523.0" cy="310.7" r="3.0"/><circle cx="525.1" cy="308.7" r="3.0"/><circle cx="527.2" cy="308.7" r="3.0"/><circle cx="529.4" cy="315.1" r="3.0"/><circle cx="531.5" cy="308.7" r="3.0"/><circle cx="533.6" cy="308.7" r="3.0"/><circle cx="535.7" cy="311.4" r="3.0"/><circle cx="537.8" cy="317.1" r="3.0"/><circle cx="539.9" cy="311.4" r="3.0"/><circle cx="542.0" cy="311.4" r="3.0"/><circle cx="544.1" cy="308.7" r="3.0"/><circle cx="546.2" cy="306.0" r="3.0"/><circle cx="548.3" cy="307.3" r="3.0"/><circle cx="550.4" cy="312.7" r="3.0"/><circle cx="552.5" cy="310.0" r="3.0"/><circle cx="554.6" cy="308.7" r="3.0"/><circle cx="556.8" cy="305.6" r="3.0"/><circle cx="558.9" cy="303.9" r="3.0"/><circle cx="561.0" cy="306.0" r="3.0"/><circle cx="563.1" cy="310.0" r="3.0"/><circle cx="565.2" cy="311.4" r="3.0"/><circle cx="567.3" cy="312.3" r="3.0"/><circle cx="569.4" cy="315.8" r="3.0"/><circle cx="571.5" cy="309.3" r="3.0"/><circle cx="573.6" cy="299.9" r="3.0"/><circle cx="575.7" cy="312.7" r="3.0"/><circle cx="577.8" cy="299.2" r="3.0"/><circle cx="579.9" cy="306.0" r="3.0"/><circle cx="582.1" cy="309.3" r="3.0"/><circle cx="584.2" cy="303.2" r="3.0"/><circle cx="586.3" cy="316.4" r="3.0"/><circle cx="588.4" cy="312.0" r="3.0"/><circle cx="590.5" cy="317.7" r="3.0"/><circle cx="592.6" cy="312.7" r="3.0"/><circle cx="594.7" cy="297.8" r="3.0"/><circle cx="596.8" cy="300.5" r="3.0"/><circle cx="598.9" cy="305.3" r="3.0"/><circle cx="601.0" cy="301.9" r="3.0"/><circle cx="603.1" cy="302.6" r="3.0"/><circle cx="605.2" cy="304.6" r="3.0"/><circle cx="607.3" cy="308.7" r="3.0"/><circle cx="609.5" cy="310.7" r="3.0"/><circle cx="611.6" cy="310.7" r="3.0"/><circle cx="613.7" cy="312.7" r="3.0"/><circle cx="615.8" cy="313.7" r="3.0"/><circle cx="617.9" cy="319.1" r="3.0"/><circle cx="620.0" cy="316.1" r="3.0"/><circle cx="622.1" cy="312.3" r="3.0"/><circle cx="624.2" cy="313.1" r="3.0"/><circle cx="626.3" cy="317.1" r="3.0"/></g>
<path d="M120.4 365.2V363.0M117.6 363.0h5.6M122.5 362.1V359.7M119.7 359.7h5.6M124.6 362.8V360.8M121.8 360.8h5.6M126.7 365.1V362.1M123.9 362.1h5.6M128.8 365.5V361.8M126.0 361.8h5.6M130.9 364.9V361.9M128.1 361.9h5.6M133.0 363.5V359.2M130.2 359.2h5.6M135.2 364.1V360.7M132.4 360.7h5.6M137.3 363.5V360.5M134.5 360.5h5.6M139.4 363.3V360.8M136.6 360.8h5.6M141.5 366.2V362.7M138.7 362.7h5.6M143.6 356.2V348.1M140.8 348.1h5.6M145.7 358.8V353.3M142.9 353.3h5.6M147.8 360.8V357.8M145.0 357.8h5.6M149.9 358.9V355.5M147.1 355.5h5.6M152.0 360.8V358.2M149.2 358.2h5.6M154.1 362.5V358.2M151.3 358.2h5.6M156.2 361.5V357.4M153.4 357.4h5.6M158.3 363.8V360.8M155.5 360.8h5.6M160.5 363.5V360.7M157.7 360.7h5.6M162.6 366.6V362.0M159.8 362.0h5.6M164.7 367.6V362.9M161.9 362.9h5.6M166.8 366.3V363.6M164.0 363.6h5.6M168.9 362.8V360.2M166.1 360.2h5.6M171.0 359.4V355.1M168.2 355.1h5.6M173.1 359.4V355.2M170.3 355.2h5.6M175.2 352.3V348.2M172.4 348.2h5.6M177.3 360.8V357.5M174.5 357.5h5.6M179.4 366.2V363.3M176.6 363.3h5.6M181.5 366.2V363.1M178.7 363.1h5.6M183.6 366.8V362.8M180.8 362.8h5.6M185.7 366.9V364.4M182.9 364.4h5.6M187.9 362.1V359.7M185.1 359.7h5.6M190.0 356.2V352.4M187.2 352.4h5.6M192.1 355.8V353.4M189.3 353.4h5.6M194.2 356.2V352.4M191.4 352.4h5.6M196.3 362.8V359.6M193.5 359.6h5.6M198.4 363.5V360.9M195.6 360.9h5.6M200.5 356.7V350.0M197.7 350.0h5.6M202.6 354.8V348.1M199.8 348.1h5.6M204.7 356.7V353.7M201.9 353.7h5.6M206.8 299.9V283.0M204.0 283.0h5.6M208.9 284.3V270.4M206.1 270.4h5.6M211.0 292.4V282.1M208.2 282.1h5.6M213.2 297.2V281.0M210.4 281.0h5.6M215.3 293.1V278.8M212.5 278.8h5.6M217.4 303.2V287.3M214.6 287.3h5.6M219.5 308.0V296.0M216.7 296.0h5.6M221.6 301.9V288.0M218.8 288.0h5.6M223.7 312.4V295.4M220.9 295.4h5.6M225.8 293.8V279.8M223.0 279.8h5.6M227.9 312.0V298.5M225.1 298.5h5.6M230.0 298.5V281.3M227.2 281.3h5.6M232.1 309.3V292.2M229.3 292.2h5.6M234.2 317.7V300.6M231.4 300.6h5.6M236.3 310.2V299.1M233.5 299.1h5.6M238.4 317.7V305.8M235.6 305.8h5.6M240.6 302.6V286.6M237.8 286.6h5.6M242.7 314.8V299.9M239.9 299.9h5.6M244.8 311.8V296.1M242.0 296.1h5.6M246.9 316.1V300.1M244.1 300.1h5.6M249.0 317.5V301.3M246.2 301.3h5.6M251.1 324.2V310.7M248.3 310.7h5.6M253.2 323.6V311.1M250.4 311.1h5.6M255.3 323.6V312.0M252.5 312.0h5.6M257.4 322.9V311.3M254.6 311.3h5.6M259.5 326.9V313.0M256.7 313.0h5.6M261.6 330.0V314.7M258.8 314.7h5.6M263.7 329.6V316.9M260.9 316.9h5.6M265.9 326.3V313.5M263.1 313.5h5.6M268.0 319.8V303.9M265.2 303.9h5.6M270.1 313.4V301.2M267.3 301.2h5.6M272.2 339.1V324.3M269.4 324.3h5.6M274.3 346.6V331.8M271.5 331.8h5.6M276.4 337.8V321.8M273.6 321.8h5.6M278.5 333.7V321.8M275.7 321.8h5.6M280.6 334.8V319.2M277.8 319.2h5.6M282.7 335.1V320.9M279.9 320.9h5.6M284.8 328.3V316.2M282.0 316.2h5.6M286.9 330.3V318.3M284.1 318.3h5.6M289.0 330.3V317.9M286.2 317.9h5.6M291.1 329.0V312.7M288.3 312.7h5.6M293.3 335.7V323.4M290.5 323.4h5.6M295.4 341.8V329.1M292.6 329.1h5.6M297.5 341.2V327.0M294.7 327.0h5.6M299.6 341.2V325.2M296.8 325.2h5.6M301.7 340.5V326.9M298.9 326.9h5.6M303.8 345.2V331.8M301.0 331.8h5.6M305.9 346.9V330.8M303.1 330.8h5.6M308.0 347.6V332.7M305.2 332.7h5.6M310.1 344.7V331.6M307.3 331.6h5.6M312.2 343.2V331.3M309.4 331.3h5.6M314.3 348.3V336.0M311.5 336.0h5.6M316.4 342.5V326.9M313.6 326.9h5.6M318.6 343.1V330.5M315.8 330.5h5.6M320.7 346.9V334.7M317.9 334.7h5.6M322.8 351.6V335.5M320.0 335.5h5.6M324.9 351.4V338.8M322.1 338.8h5.6M327.0 353.5V340.3M324.2 340.3h5.6M329.1 354.1V340.3M326.3 340.3h5.6M331.2 354.9V343.7M328.4 343.7h5.6M333.3 359.6V350.3M330.5 350.3h5.6M335.4 358.2V349.3M332.6 349.3h5.6M337.5 352.9V341.4M334.7 341.4h5.6M339.6 360.9V348.9M336.8 348.9h5.6M341.7 364.2V353.5M338.9 353.5h5.6M343.8 365.5V356.0M341.0 356.0h5.6M346.0 350.9V341.9M343.2 341.9h5.6M348.1 356.9V345.2M345.3 345.2h5.6M350.2 360.2V350.7M347.4 350.7h5.6M352.3 356.3V343.5M349.5 343.5h5.6M354.4 362.1V350.6M351.6 350.6h5.6M356.5 357.4V345.3M353.7 345.3h5.6M358.6 357.4V348.0M355.8 348.0h5.6M360.7 358.8V346.0M357.9 346.0h5.6M362.8 360.3V348.5M360.0 348.5h5.6M364.9 362.8V354.0M362.1 354.0h5.6M367.0 360.8V349.6M364.2 349.6h5.6M369.1 358.9V349.8M366.3 349.8h5.6M371.3 352.9V341.4M368.5 341.4h5.6M373.4 363.5V353.7M370.6 353.7h5.6M375.5 360.8V349.7M372.7 349.7h5.6M377.6 360.8V348.8M374.8 348.8h5.6M379.7 358.2V346.4M376.9 346.4h5.6M381.8 358.7V348.7M379.0 348.7h5.6M383.9 360.2V348.7M381.1 348.7h5.6M386.0 355.6V345.5M383.2 345.5h5.6M388.1 358.1V346.1M385.3 346.1h5.6M390.2 359.4V348.4M387.4 348.4h5.6M392.3 359.4V346.4M389.5 346.4h5.6M394.4 361.5V350.3M391.6 350.3h5.6M396.5 369.6V358.9M393.7 358.9h5.6M398.7 370.9V362.9M395.9 362.9h5.6M400.8 370.3V362.5M398.0 362.5h5.6M402.9 373.3V364.0M400.1 364.0h5.6M405.0 372.3V361.6M402.2 361.6h5.6M407.1 368.9V358.8M404.3 358.8h5.6M409.2 366.9V357.9M406.4 357.9h5.6M411.3 368.2V359.1M408.5 359.1h5.6M413.4 375.0V367.6M410.6 367.6h5.6M415.5 368.9V358.2M412.7 358.2h5.6M417.6 368.9V358.2M414.8 358.2h5.6M419.7 371.6V361.5M416.9 361.5h5.6M421.8 365.5V357.0M419.0 357.0h5.6M424.0 375.7V366.1M421.2 366.1h5.6M426.1 366.2V358.1M423.3 358.1h5.6M428.2 366.2V355.5M425.4 355.5h5.6M430.3 368.2V360.3M427.5 360.3h5.6M432.4 372.3V364.6M429.6 364.6h5.6M434.5 363.5V351.3M431.7 351.3h5.6M436.6 371.6V360.5M433.8 360.5h5.6M438.7 366.2V356.0M435.9 356.0h5.6M440.8 366.2V357.3M438.0 357.3h5.6M442.9 371.6V363.5M440.1 363.5h5.6M445.0 368.2V360.9M442.2 360.9h5.6M447.1 375.0V366.8M444.3 366.8h5.6M449.2 370.3V362.3M446.4 362.3h5.6M451.4 376.4V367.0M448.6 367.0h5.6M453.5 376.4V368.8M450.7 368.8h5.6M455.6 373.0V363.9M452.8 363.9h5.6M457.7 369.6V358.1M454.9 358.1h5.6M459.8 367.1V359.4M457.0 359.4h5.6M461.9 366.9V359.7M459.1 359.7h5.6M464.0 368.2V358.8M461.2 358.8h5.6M466.1 372.3V363.6M463.3 363.6h5.6M468.2 372.3V363.7M465.4 363.7h5.6M470.3 368.9V360.8M467.5 360.8h5.6M472.4 365.5V350.6M469.6 350.6h5.6M474.5 370.3V362.5M471.7 362.5h5.6M476.7 371.8V363.1M473.9 363.1h5.6M478.8 375.7V364.9M476.0 364.9h5.6M480.9 368.2V361.3M478.1 361.3h5.6M483.0 372.3V363.3M480.2 363.3h5.6M485.1 369.6V361.0M482.3 361.0h5.6M487.2 375.0V364.2M484.4 364.2h5.6M489.3 368.2V361.0M486.5 361.0h5.6M491.4 368.2V358.2M488.6 358.2h5.6M493.5 366.9V356.1M490.7 356.1h5.6M495.6 379.5V370.1M492.8 370.1h5.6M497.7 371.6V363.8M494.9 363.8h5.6M499.8 373.7V365.4M497.0 365.4h5.6M501.9 369.4V359.7M499.1 359.7h5.6M504.1 368.2V361.1M501.3 361.1h5.6M506.2 371.6V363.0M503.4 363.0h5.6M508.3 364.9V358.0M505.5 358.0h5.6M510.4 368.9V357.6M507.6 357.6h5.6M512.5 366.9V357.9M509.7 357.9h5.6M514.6 365.5V354.2M511.8 354.2h5.6M516.7 364.2V357.3M513.9 357.3h5.6M518.8 367.6V358.8M516.0 358.8h5.6M520.9 367.6V356.4M518.1 356.4h5.6M523.0 361.5V353.1M520.2 353.1h5.6M525.1 359.6V351.9M522.3 351.9h5.6M527.2 359.6V350.4M524.4 350.4h5.6M529.4 360.8V352.7M526.6 352.7h5.6M531.5 362.8V355.0M528.7 355.0h5.6M533.6 364.9V353.6M530.8 353.6h5.6M535.7 366.9V359.1M532.9 359.1h5.6M537.8 366.2V354.9M535.0 354.9h5.6M539.9 368.5V360.7M537.1 360.7h5.6M542.0 369.6V364.7M539.2 364.7h5.6M544.1 373.0V365.2M541.3 365.2h5.6M546.2 370.3V362.2M543.4 362.2h5.6M548.3 374.3V369.0M545.5 369.0h5.6M550.4 367.6V362.7M547.6 362.7h5.6M552.5 368.9V362.9M549.7 362.9h5.6M554.6 368.9V364.2M551.8 364.2h5.6M556.8 365.5V357.6M554.0 357.6h5.6M558.9 373.7V368.2M556.1 368.2h5.6M561.0 368.9V361.4M558.2 361.4h5.6M563.1 368.9V362.6M560.3 362.6h5.6M565.2 373.0V367.6M562.4 367.6h5.6M567.3 368.2V363.4M564.5 363.4h5.6M569.4 366.3V359.0M566.6 359.0h5.6M571.5 364.9V354.0M568.7 354.0h5.6M573.6 371.6V364.4M570.8 364.4h5.6M575.7 372.3V366.6M572.9 366.6h5.6M577.8 376.4V370.7M575.0 370.7h5.6M579.9 373.0V367.3M577.1 367.3h5.6M582.1 373.0V365.1M579.3 365.1h5.6M584.2 375.7V370.9M581.4 370.9h5.6M586.3 370.3V362.3M583.5 362.3h5.6M588.4 375.0V369.4M585.6 369.4h5.6M590.5 372.3V364.4M587.7 364.4h5.6M592.6 368.9V361.7M589.8 361.7h5.6M594.7 368.9V362.1M591.9 362.1h5.6M596.8 370.3V364.3M594.0 364.3h5.6M598.9 376.4V371.0M596.1 371.0h5.6M601.0 372.3V367.3M598.2 367.3h5.6M603.1 368.9V363.1M600.3 363.1h5.6M605.2 370.9V362.9M602.4 362.9h5.6M607.3 372.3V367.2M604.5 367.2h5.6M609.5 368.2V362.0M606.7 362.0h5.6M611.6 370.3V363.4M608.8 363.4h5.6M613.7 365.5V356.7M610.9 356.7h5.6M615.8 375.0V367.4M613.0 367.4h5.6M617.9 368.2V362.2M615.1 362.2h5.6M620.0 370.9V365.4M617.2 365.4h5.6M622.1 366.2V357.4M619.3 357.4h5.6M624.2 364.9V358.8M621.4 358.8h5.6M626.3 368.2V362.7M623.5 362.7h5.6" stroke="#222" stroke-width="0.7" fill="none" shape-rendering="crispEdges"/>
<g fill="#cecfd0" stroke="#1a1a1a" stroke-width="0.7"><circle cx="120.4" cy="365.2" r="3.0"/><circle cx="122.5" cy="362.1" r="3.0"/><circle cx="124.6" cy="362.8" r="3.0"/><circle cx="126.7" cy="365.1" r="3.0"/><circle cx="128.8" cy="365.5" r="3.0"/><circle cx="130.9" cy="364.9" r="3.0"/><circle cx="133.0" cy="363.5" r="3.0"/><circle cx="135.2" cy="364.1" r="3.0"/><circle cx="137.3" cy="363.5" r="3.0"/><circle cx="139.4" cy="363.3" r="3.0"/><circle cx="141.5" cy="366.2" r="3.0"/><circle cx="143.6" cy="356.2" r="3.0"/><circle cx="145.7" cy="358.8" r="3.0"/><circle cx="147.8" cy="360.8" r="3.0"/><circle cx="149.9" cy="358.9" r="3.0"/><circle cx="152.0" cy="360.8" r="3.0"/><circle cx="154.1" cy="362.5" r="3.0"/><circle cx="156.2" cy="361.5" r="3.0"/><circle cx="158.3" cy="363.8" r="3.0"/><circle cx="160.5" cy="363.5" r="3.0"/><circle cx="162.6" cy="366.6" r="3.0"/><circle cx="164.7" cy="367.6" r="3.0"/><circle cx="166.8" cy="366.3" r="3.0"/><circle cx="168.9" cy="362.8" r="3.0"/><circle cx="171.0" cy="359.4" r="3.0"/><circle cx="173.1" cy="359.4" r="3.0"/><circle cx="175.2" cy="352.3" r="3.0"/><circle cx="177.3" cy="360.8" r="3.0"/><circle cx="179.4" cy="366.2" r="3.0"/><circle cx="181.5" cy="366.2" r="3.0"/><circle cx="183.6" cy="366.8" r="3.0"/><circle cx="185.7" cy="366.9" r="3.0"/><circle cx="187.9" cy="362.1" r="3.0"/><circle cx="190.0" cy="356.2" r="3.0"/><circle cx="192.1" cy="355.8" r="3.0"/><circle cx="194.2" cy="356.2" r="3.0"/><circle cx="196.3" cy="362.8" r="3.0"/><circle cx="198.4" cy="363.5" r="3.0"/><circle cx="200.5" cy="356.7" r="3.0"/><circle cx="202.6" cy="354.8" r="3.0"/><circle cx="204.7" cy="356.7" r="3.0"/><circle cx="206.8" cy="299.9" r="3.0"/><circle cx="208.9" cy="284.3" r="3.0"/><circle cx="211.0" cy="292.4" r="3.0"/><circle cx="213.2" cy="297.2" r="3.0"/><circle cx="215.3" cy="293.1" r="3.0"/><circle cx="217.4" cy="303.2" r="3.0"/><circle cx="219.5" cy="308.0" r="3.0"/><circle cx="221.6" cy="301.9" r="3.0"/><circle cx="223.7" cy="312.4" r="3.0"/><circle cx="225.8" cy="293.8" r="3.0"/><circle cx="227.9" cy="312.0" r="3.0"/><circle cx="230.0" cy="298.5" r="3.0"/><circle cx="232.1" cy="309.3" r="3.0"/><circle cx="234.2" cy="317.7" r="3.0"/><circle cx="236.3" cy="310.2" r="3.0"/><circle cx="238.4" cy="317.7" r="3.0"/><circle cx="240.6" cy="302.6" r="3.0"/><circle cx="242.7" cy="314.8" r="3.0"/><circle cx="244.8" cy="311.8" r="3.0"/><circle cx="246.9" cy="316.1" r="3.0"/><circle cx="249.0" cy="317.5" r="3.0"/><circle cx="251.1" cy="324.2" r="3.0"/><circle cx="253.2" cy="323.6" r="3.0"/><circle cx="255.3" cy="323.6" r="3.0"/><circle cx="257.4" cy="322.9" r="3.0"/><circle cx="259.5" cy="326.9" r="3.0"/><circle cx="261.6" cy="330.0" r="3.0"/><circle cx="263.7" cy="329.6" r="3.0"/><circle cx="265.9" cy="326.3" r="3.0"/><circle cx="268.0" cy="319.8" r="3.0"/><circle cx="270.1" cy="313.4" r="3.0"/><circle cx="272.2" cy="339.1" r="3.0"/><circle cx="274.3" cy="346.6" r="3.0"/><circle cx="276.4" cy="337.8" r="3.0"/><circle cx="278.5" cy="333.7" r="3.0"/><circle cx="280.6" cy="334.8" r="3.0"/><circle cx="282.7" cy="335.1" r="3.0"/><circle cx="284.8" cy="328.3" r="3.0"/><circle cx="286.9" cy="330.3" r="3.0"/><circle cx="289.0" cy="330.3" r="3.0"/><circle cx="291.1" cy="329.0" r="3.0"/><circle cx="293.3" cy="335.7" r="3.0"/><circle cx="295.4" cy="341.8" r="3.0"/><circle cx="297.5" cy="341.2" r="3.0"/><circle cx="299.6" cy="341.2" r="3.0"/><circle cx="301.7" cy="340.5" r="3.0"/><circle cx="303.8" cy="345.2" r="3.0"/><circle cx="305.9" cy="346.9" r="3.0"/><circle cx="308.0" cy="347.6" r="3.0"/><circle cx="310.1" cy="344.7" r="3.0"/><circle cx="312.2" cy="343.2" r="3.0"/><circle cx="314.3" cy="348.3" r="3.0"/><circle cx="316.4" cy="342.5" r="3.0"/><circle cx="318.6" cy="343.1" r="3.0"/><circle cx="320.7" cy="346.9" r="3.0"/><circle cx="322.8" cy="351.6" r="3.0"/><circle cx="324.9" cy="351.4" r="3.0"/><circle cx="327.0" cy="353.5" r="3.0"/><circle cx="329.1" cy="354.1" r="3.0"/><circle cx="331.2" cy="354.9" r="3.0"/><circle cx="333.3" cy="359.6" r="3.0"/><circle cx="335.4" cy="358.2" r="3.0"/><circle cx="337.5" cy="352.9" r="3.0"/><circle cx="339.6" cy="360.9" r="3.0"/><circle cx="341.7" cy="364.2" r="3.0"/><circle cx="343.8" cy="365.5" r="3.0"/><circle cx="346.0" cy="350.9" r="3.0"/><circle cx="348.1" cy="356.9" r="3.0"/><circle cx="350.2" cy="360.2" r="3.0"/><circle cx="352.3" cy="356.3" r="3.0"/><circle cx="354.4" cy="362.1" r="3.0"/><circle cx="356.5" cy="357.4" r="3.0"/><circle cx="358.6" cy="357.4" r="3.0"/><circle cx="360.7" cy="358.8" r="3.0"/><circle cx="362.8" cy="360.3" r="3.0"/><circle cx="364.9" cy="362.8" r="3.0"/><circle cx="367.0" cy="360.8" r="3.0"/><circle cx="369.1" cy="358.9" r="3.0"/><circle cx="371.3" cy="352.9" r="3.0"/><circle cx="373.4" cy="363.5" r="3.0"/><circle cx="375.5" cy="360.8" r="3.0"/><circle cx="377.6" cy="360.8" r="3.0"/><circle cx="379.7" cy="358.2" r="3.0"/><circle cx="381.8" cy="358.7" r="3.0"/><circle cx="383.9" cy="360.2" r="3.0"/><circle cx="386.0" cy="355.6" r="3.0"/><circle cx="388.1" cy="358.1" r="3.0"/><circle cx="390.2" cy="359.4" r="3.0"/><circle cx="392.3" cy="359.4" r="3.0"/><circle cx="394.4" cy="361.5" r="3.0"/><circle cx="396.5" cy="369.6" r="3.0"/><circle cx="398.7" cy="370.9" r="3.0"/><circle cx="400.8" cy="370.3" r="3.0"/><circle cx="402.9" cy="373.3" r="3.0"/><circle cx="405.0" cy="372.3" r="3.0"/><circle cx="407.1" cy="368.9" r="3.0"/><circle cx="409.2" cy="366.9" r="3.0"/><circle cx="411.3" cy="368.2" r="3.0"/><circle cx="413.4" cy="375.0" r="3.0"/><circle cx="415.5" cy="368.9" r="3.0"/><circle cx="417.6" cy="368.9" r="3.0"/><circle cx="419.7" cy="371.6" r="3.0"/><circle cx="421.8" cy="365.5" r="3.0"/><circle cx="424.0" cy="375.7" r="3.0"/><circle cx="426.1" cy="366.2" r="3.0"/><circle cx="428.2" cy="366.2" r="3.0"/><circle cx="430.3" cy="368.2" r="3.0"/><circle cx="432.4" cy="372.3" r="3.0"/><circle cx="434.5" cy="363.5" r="3.0"/><circle cx="436.6" cy="371.6" r="3.0"/><circle cx="438.7" cy="366.2" r="3.0"/><circle cx="440.8" cy="366.2" r="3.0"/><circle cx="442.9" cy="371.6" r="3.0"/><circle cx="445.0" cy="368.2" r="3.0"/><circle cx="447.1" cy="375.0" r="3.0"/><circle cx="449.2" cy="370.3" r="3.0"/><circle cx="451.4" cy="376.4" r="3.0"/><circle cx="453.5" cy="376.4" r="3.0"/><circle cx="455.6" cy="373.0" r="3.0"/><circle cx="457.7" cy="369.6" r="3.0"/><circle cx="459.8" cy="367.1" r="3.0"/><circle cx="461.9" cy="366.9" r="3.0"/><circle cx="464.0" cy="368.2" r="3.0"/><circle cx="466.1" cy="372.3" r="3.0"/><circle cx="468.2" cy="372.3" r="3.0"/><circle cx="470.3" cy="368.9" r="3.0"/><circle cx="472.4" cy="365.5" r="3.0"/><circle cx="474.5" cy="370.3" r="3.0"/><circle cx="476.7" cy="371.8" r="3.0"/><circle cx="478.8" cy="375.7" r="3.0"/><circle cx="480.9" cy="368.2" r="3.0"/><circle cx="483.0" cy="372.3" r="3.0"/><circle cx="485.1" cy="369.6" r="3.0"/><circle cx="487.2" cy="375.0" r="3.0"/><circle cx="489.3" cy="368.2" r="3.0"/><circle cx="491.4" cy="368.2" r="3.0"/><circle cx="493.5" cy="366.9" r="3.0"/><circle cx="495.6" cy="379.5" r="3.0"/><circle cx="497.7" cy="371.6" r="3.0"/><circle cx="499.8" cy="373.7" r="3.0"/><circle cx="501.9" cy="369.4" r="3.0"/><circle cx="504.1" cy="368.2" r="3.0"/><circle cx="506.2" cy="371.6" r="3.0"/><circle cx="508.3" cy="364.9" r="3.0"/><circle cx="510.4" cy="368.9" r="3.0"/><circle cx="512.5" cy="366.9" r="3.0"/><circle cx="514.6" cy="365.5" r="3.0"/><circle cx="516.7" cy="364.2" r="3.0"/><circle cx="518.8" cy="367.6" r="3.0"/><circle cx="520.9" cy="367.6" r="3.0"/><circle cx="523.0" cy="361.5" r="3.0"/><circle cx="525.1" cy="359.6" r="3.0"/><circle cx="527.2" cy="359.6" r="3.0"/><circle cx="529.4" cy="360.8" r="3.0"/><circle cx="531.5" cy="362.8" r="3.0"/><circle cx="533.6" cy="364.9" r="3.0"/><circle cx="535.7" cy="366.9" r="3.0"/><circle cx="537.8" cy="366.2" r="3.0"/><circle cx="539.9" cy="368.5" r="3.0"/><circle cx="542.0" cy="369.6" r="3.0"/><circle cx="544.1" cy="373.0" r="3.0"/><circle cx="546.2" cy="370.3" r="3.0"/><circle cx="548.3" cy="374.3" r="3.0"/><circle cx="550.4" cy="367.6" r="3.0"/><circle cx="552.5" cy="368.9" r="3.0"/><circle cx="554.6" cy="368.9" r="3.0"/><circle cx="556.8" cy="365.5" r="3.0"/><circle cx="558.9" cy="373.7" r="3.0"/><circle cx="561.0" cy="368.9" r="3.0"/><circle cx="563.1" cy="368.9" r="3.0"/><circle cx="565.2" cy="373.0" r="3.0"/><circle cx="567.3" cy="368.2" r="3.0"/><circle cx="569.4" cy="366.3" r="3.0"/><circle cx="571.5" cy="364.9" r="3.0"/><circle cx="573.6" cy="371.6" r="3.0"/><circle cx="575.7" cy="372.3" r="3.0"/><circle cx="577.8" cy="376.4" r="3.0"/><circle cx="579.9" cy="373.0" r="3.0"/><circle cx="582.1" cy="373.0" r="3.0"/><circle cx="584.2" cy="375.7" r="3.0"/><circle cx="586.3" cy="370.3" r="3.0"/><circle cx="588.4" cy="375.0" r="3.0"/><circle cx="590.5" cy="372.3" r="3.0"/><circle cx="592.6" cy="368.9" r="3.0"/><circle cx="594.7" cy="368.9" r="3.0"/><circle cx="596.8" cy="370.3" r="3.0"/><circle cx="598.9" cy="376.4" r="3.0"/><circle cx="601.0" cy="372.3" r="3.0"/><circle cx="603.1" cy="368.9" r="3.0"/><circle cx="605.2" cy="370.9" r="3.0"/><circle cx="607.3" cy="372.3" r="3.0"/><circle cx="609.5" cy="368.2" r="3.0"/><circle cx="611.6" cy="370.3" r="3.0"/><circle cx="613.7" cy="365.5" r="3.0"/><circle cx="615.8" cy="375.0" r="3.0"/><circle cx="617.9" cy="368.2" r="3.0"/><circle cx="620.0" cy="370.9" r="3.0"/><circle cx="622.1" cy="366.2" r="3.0"/><circle cx="624.2" cy="364.9" r="3.0"/><circle cx="626.3" cy="368.2" r="3.0"/></g>
<path d="M198.3 398V387.5" stroke="#000" stroke-width="1.3"/><path d="M198.3 378.6l4.4 9.6h-8.8z" fill="#000"/><path d="M204.4 398V387.5" stroke="#000" stroke-width="1.3"/><path d="M204.4 378.6l4.4 9.6h-8.8z" fill="#000"/><path d="M210.6 398V387.5" stroke="#000" stroke-width="1.3"/><path d="M210.6 378.6l4.4 9.6h-8.8z" fill="#000"/><path d="M217.6 398V387.5" stroke="#000" stroke-width="1.3"/><path d="M217.6 378.6l4.4 9.6h-8.8z" fill="#000"/>
<text x="199.6" y="408.8" font-size="6.2" letter-spacing="2.75">HFS</text>
<path d="M165.3 413.1H246.4" stroke="#111" stroke-width="1.2"/>
<text x="153.9" y="425.9" font-size="6.7" letter-spacing="2.07">TB and/or Scopolamine</text>
<g font-size="8.8" stroke="#231f20" stroke-width="0.25"><text x="150.2" y="346.1">a</text><text x="234.9" y="232.7">b</text><text x="447.5" y="259.4">c</text></g>
</g>
<g id="panelB">
<text transform="translate(214.8 545.5) scale(0.85 1)" font-size="16.8" font-weight="bold">B</text>
<path d="M267.3 553.5V753.5M262.7 753.5H518.7M267.3 753.5h-4.6M267.3 713.5h-4.6M267.3 673.5h-4.6M267.3 633.5h-4.6M267.3 593.5h-4.6M267.3 553.5h-4.6M309.0 753.5v4.6M392.7 753.5v4.6M476.3 753.5v4.6" fill="none" stroke="#636466" stroke-width="0.9"/>
<g font-size="15.8"><text transform="translate(261.0 759.1) scale(0.805 1)" text-anchor="end">0</text><text transform="translate(261.0 719.1) scale(0.805 1)" text-anchor="end">50</text><text transform="translate(261.0 679.1) scale(0.805 1)" text-anchor="end">100</text><text transform="translate(261.0 639.1) scale(0.805 1)" text-anchor="end">150</text><text transform="translate(261.0 599.1) scale(0.805 1)" text-anchor="end">200</text><text transform="translate(261.0 559.1) scale(0.805 1)" text-anchor="end">250</text></g>
<path d="M309.0 587.0V580.4M295.1 580.4h27.8" stroke="#636466" stroke-width="0.9" fill="none"/><rect x="281.4" y="587.0" width="55.2" height="166.5" fill="#fff" stroke="#636466" stroke-width="0.9"/>
<path d="M392.7 605.0V597.5M378.8 597.5h27.8" stroke="#636466" stroke-width="0.9" fill="none"/><rect x="364.6" y="605.0" width="56.2" height="148.5" fill="#d1d3d4" stroke="#636466" stroke-width="0.9"/>
<path d="M476.3 589.4V581.3M462.4 581.3h27.8" stroke="#636466" stroke-width="0.9" fill="none"/><rect x="448.2" y="589.4" width="56.2" height="164.1" fill="#000" stroke="#000" stroke-width="0.9"/>
<g font-size="15.6"><text transform="translate(308.1 774.3) scale(0.797 1)" text-anchor="middle">CONTROL</text><text transform="translate(391.9 774.3) scale(0.797 1)" text-anchor="middle">SCOP</text><text transform="translate(475.9 774.3) scale(0.797 1)" text-anchor="middle">SCOP+TB</text></g>
<g font-size="16.3" text-anchor="middle"><text transform="translate(215.8 653.8) scale(0.88 1) rotate(-90)">fEPSP Slope (%Control)</text><text transform="translate(232.4 653.1) scale(0.88 1) rotate(-90)" font-size="15.95">10 min after HFS</text></g>
</g>
<g id="panelC">
<text transform="translate(28.6 814.3) scale(0.85 1)" font-size="16.8" font-weight="bold">C</text>
<path d="M79.4 822.5V1021.4M74.8 1021.4H331.3M79.4 1021.4h-4.6M79.4 981.6h-4.6M79.4 941.8h-4.6M79.4 902.1h-4.6M79.4 862.3h-4.6M79.4 822.5h-4.6M121.7 1021.4v4.6M205.7 1021.4v4.6M289.8 1021.4v4.6" fill="none" stroke="#636466" stroke-width="0.9"/>
<g font-size="15.8"><text transform="translate(74.1 1027.0) scale(0.805 1)" text-anchor="end">0</text><text transform="translate(74.1 987.3) scale(0.805 1)" text-anchor="end">50</text><text transform="translate(74.1 947.5) scale(0.805 1)" text-anchor="end">100</text><text transform="translate(74.1 907.7) scale(0.805 1)" text-anchor="end">150</text><text transform="translate(74.1 867.9) scale(0.805 1)" text-anchor="end">200</text><text transform="translate(74.1 828.1) scale(0.805 1)" text-anchor="end">250</text></g>
<path d="M121.7 878.7V875.2M107.8 875.2h27.8" stroke="#636466" stroke-width="0.9" fill="none"/><rect x="93.8" y="878.7" width="55.8" height="142.7" fill="#fff" stroke="#636466" stroke-width="0.9"/>
<path d="M205.7 949.2V945.5M191.8 945.5h27.8" stroke="#636466" stroke-width="0.9" fill="none"/><rect x="177.6" y="949.2" width="56.1" height="72.2" fill="#d1d3d4" stroke="#636466" stroke-width="0.9"/>
<path d="M289.8 867.6V860.2M275.9 860.2h27.8" stroke="#636466" stroke-width="0.9" fill="none"/><rect x="261.6" y="867.6" width="56.4" height="153.8" fill="#000" stroke="#000" stroke-width="0.9"/>
<g font-size="15.6"><text transform="translate(120.9 1042.2) scale(0.797 1)" text-anchor="middle">CONTROL</text><text transform="translate(205.5 1042.2) scale(0.797 1)" text-anchor="middle">SCOP</text><text transform="translate(289.2 1042.2) scale(0.797 1)" text-anchor="middle">SCOP+TB</text></g>
<g font-size="16.3" text-anchor="middle"><text transform="translate(29.3 922.0) scale(0.88 1) rotate(-90)">fEPSP Slope (%Control)</text><text transform="translate(45.0 920.8) scale(0.88 1) rotate(-90)" font-size="15.95">100 min after HFS</text></g>
<g font-size="18.5" text-anchor="middle"><text transform="translate(204.4 918.7) scale(0.82 1)">***</text><text transform="translate(204.4 938.6) scale(0.83 1)" font-size="15.6">###</text></g>
</g>
<g id="panelD">
<text transform="translate(430.9 818.1) scale(0.85 1)" font-size="16.8" font-weight="bold">D</text>
<path d="M480.8 826.1V1026.3M476.2 1026.3H732M480.8 1026.3h-4.6M480.8 986.3h-4.6M480.8 946.2h-4.6M480.8 906.2h-4.6M480.8 866.1h-4.6M480.8 826.1h-4.6M522.7 1026.3v4.6M606.8 1026.3v4.6M690.4 1026.3v4.6" fill="none" stroke="#636466" stroke-width="0.9"/>
<g font-size="15.8"><text transform="translate(474.5 1032.0) scale(0.805 1)" text-anchor="end">0</text><text transform="translate(474.5 991.9) scale(0.805 1)" text-anchor="end">50</text><text transform="translate(474.5 951.9) scale(0.805 1)" text-anchor="end">100</text><text transform="translate(474.5 911.8) scale(0.805 1)" text-anchor="end">150</text><text transform="translate(474.5 871.8) scale(0.805 1)" text-anchor="end">200</text><text transform="translate(474.5 831.7) scale(0.805 1)" text-anchor="end">250</text></g>
<path d="M522.7 883.7V881.4M508.8 881.4h27.8" stroke="#636466" stroke-width="0.9" fill="none"/><rect x="495.0" y="883.7" width="55.4" height="142.6" fill="#fff" stroke="#636466" stroke-width="0.9"/>
<path d="M606.8 947.1V944.5M592.9 944.5h27.8" stroke="#636466" stroke-width="0.9" fill="none"/><rect x="578.7" y="947.1" width="56.1" height="79.2" fill="#d1d3d4" stroke="#636466" stroke-width="0.9"/>
<path d="M690.4 882.0V873.9M676.5 873.9h27.8" stroke="#636466" stroke-width="0.9" fill="none"/><rect x="662.4" y="882.0" width="56.1" height="144.3" fill="#000" stroke="#000" stroke-width="0.9"/>
<g font-size="15.6"><text transform="translate(522.3 1046.1) scale(0.797 1)" text-anchor="middle">CONTROL</text><text transform="translate(606.4 1046.1) scale(0.797 1)" text-anchor="middle">SCOP</text><text transform="translate(689.6 1046.1) scale(0.797 1)" text-anchor="middle">SCOP+TB</text></g>
<g font-size="16.3" text-anchor="middle"><text transform="translate(429.7 926.0) scale(0.88 1) rotate(-90)">fEPSP Slope (%Control)</text><text transform="translate(445.5 926.6) scale(0.88 1) rotate(-90)" font-size="15.95">200 min after HFS</text></g>
<g font-size="18.5" text-anchor="middle"><text transform="translate(606.3 917.2) scale(0.82 1)">***</text><text transform="translate(606.3 936.2) scale(0.83 1)" font-size="15.6">###</text></g>
</g>
</svg>
</body></html>
